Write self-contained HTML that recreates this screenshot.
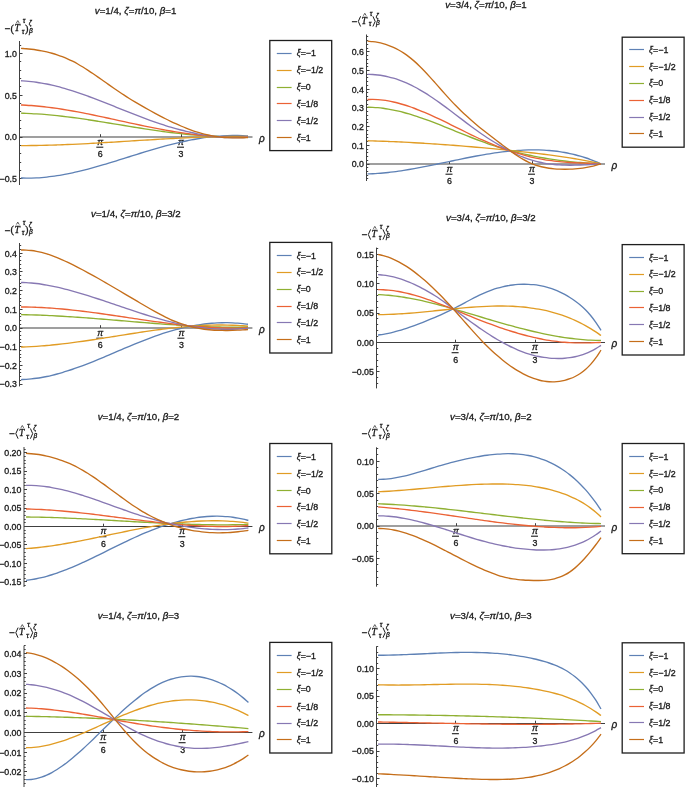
<!DOCTYPE html>
<html><head><meta charset="utf-8"><style>
html,body{margin:0;padding:0;background:#fff;width:685px;height:787px;overflow:hidden}
svg{display:block;font-family:"Liberation Sans", sans-serif;will-change:transform}
text{stroke:#1a1a1a;stroke-width:0.32px;paint-order:stroke}
</style></head><body>
<svg width="685" height="787" viewBox="0 0 685 787">
<rect width="685" height="787" fill="#fff"/>
<line x1="19.5" y1="41" x2="19.5" y2="185" stroke="#404040" stroke-width="1"/>
<path d="M19.5,178.5h3M19.5,170.5h1.7M19.5,162.5h1.7M19.5,153.5h1.7M19.5,145.5h1.7M19.5,137.5h3M19.5,128.5h1.7M19.5,120.5h1.7M19.5,111.5h1.7M19.5,103.5h1.7M19.5,95.5h3M19.5,86.5h1.7M19.5,78.5h1.7M19.5,70.5h1.7M19.5,61.5h1.7M19.5,53.5h3M19.5,45.5h1.7" stroke="#404040" stroke-width="1" fill="none"/>
<g font-size="8.8" text-anchor="end" fill="#1a1a1a"><text x="16.9" y="182.05">−0.5</text><text x="16.9" y="140.3">0.0</text><text x="16.9" y="98.55">0.5</text><text x="16.9" y="56.8">1.0</text></g>
<line x1="19.5" y1="137" x2="252.5" y2="137" stroke="#404040" stroke-width="1.2"/>
<path d="M100.5,137v-2.8M181.5,137v-2.8" stroke="#404040" stroke-width="1"/>
<text x="100.3" y="144.5" font-size="8.8" font-style="italic" text-anchor="middle" fill="#1a1a1a">π</text>
<line x1="96.3" y1="147.2" x2="103.3" y2="147.2" stroke="#1a1a1a" stroke-width="1.1"/>
<text x="100.3" y="157.2" font-size="8.8" text-anchor="middle" fill="#1a1a1a">6</text>
<text x="181" y="144.5" font-size="8.8" font-style="italic" text-anchor="middle" fill="#1a1a1a">π</text>
<line x1="177" y1="147.2" x2="184" y2="147.2" stroke="#1a1a1a" stroke-width="1.1"/>
<text x="181" y="157.2" font-size="8.8" text-anchor="middle" fill="#1a1a1a">3</text>
<text x="259" y="141.6" font-size="10" font-style="italic" fill="#1a1a1a">ρ</text>
<path d="M21,177.98C22.72,178.03 24.44,178.1 26.16,178.12C27.88,178.13 29.6,178.12 31.32,178.08C33.04,178.05 34.76,177.98 36.48,177.89C38.2,177.8 39.92,177.69 41.64,177.55C43.36,177.41 45.08,177.25 46.8,177.06C48.52,176.88 50.23,176.67 51.95,176.44C53.67,176.22 55.39,175.97 57.11,175.7C58.83,175.43 60.55,175.14 62.27,174.83C63.99,174.53 65.71,174.2 67.43,173.86C69.15,173.52 70.87,173.16 72.59,172.79C74.31,172.42 76.03,172.03 77.75,171.62C79.47,171.22 81.19,170.8 82.91,170.37C84.63,169.94 86.35,169.5 88.07,169.05C89.79,168.59 91.51,168.13 93.23,167.65C94.95,167.18 96.67,166.69 98.39,166.2C100.11,165.71 101.83,165.21 103.55,164.7C105.27,164.19 106.98,163.68 108.7,163.16C110.42,162.64 112.14,162.11 113.86,161.58C115.58,161.05 117.3,160.51 119.02,159.98C120.74,159.44 122.46,158.9 124.18,158.36C125.9,157.82 127.62,157.28 129.34,156.74C131.06,156.2 132.78,155.66 134.5,155.12C136.22,154.58 137.94,154.05 139.66,153.51C141.38,152.98 143.1,152.45 144.82,151.93C146.54,151.41 148.26,150.89 149.98,150.37C151.7,149.86 153.42,149.36 155.14,148.86C156.86,148.36 158.58,147.87 160.3,147.39C162.02,146.91 163.73,146.43 165.45,145.97C167.17,145.51 168.89,145.06 170.61,144.62C172.33,144.18 174.05,143.74 175.77,143.33C177.49,142.91 179.21,142.5 180.93,142.11C182.65,141.72 184.37,141.34 186.09,140.97C187.81,140.61 189.53,140.26 191.25,139.93C192.97,139.59 194.69,139.27 196.41,138.97C198.13,138.67 199.85,138.38 201.57,138.11C203.29,137.85 205.01,137.6 206.73,137.37C208.45,137.14 210.17,136.92 211.89,136.73C213.61,136.54 215.33,136.37 217.05,136.22C218.77,136.07 220.48,135.93 222.2,135.83C223.92,135.72 225.64,135.63 227.36,135.57C229.08,135.51 230.8,135.47 232.52,135.46C234.24,135.45 235.96,135.46 237.68,135.49C239.4,135.53 241.12,135.59 242.84,135.68C244.56,135.77 246.28,135.91 248,136.02" stroke="#5e81b5" stroke-width="1.35" fill="none" stroke-linejoin="round"/>
<path d="M21,145.58C22.72,145.58 24.44,145.58 26.16,145.57C27.88,145.56 29.6,145.55 31.32,145.53C33.04,145.51 34.76,145.49 36.48,145.46C38.2,145.43 39.92,145.4 41.64,145.37C43.36,145.33 45.08,145.29 46.8,145.24C48.52,145.2 50.23,145.15 51.95,145.1C53.67,145.05 55.39,144.99 57.11,144.93C58.83,144.87 60.55,144.81 62.27,144.75C63.99,144.68 65.71,144.61 67.43,144.54C69.15,144.47 70.87,144.39 72.59,144.31C74.31,144.24 76.03,144.16 77.75,144.07C79.47,143.99 81.19,143.91 82.91,143.82C84.63,143.73 86.35,143.64 88.07,143.55C89.79,143.46 91.51,143.36 93.23,143.27C94.95,143.17 96.67,143.08 98.39,142.98C100.11,142.88 101.83,142.78 103.55,142.68C105.27,142.58 106.98,142.47 108.7,142.37C110.42,142.27 112.14,142.16 113.86,142.06C115.58,141.95 117.3,141.84 119.02,141.74C120.74,141.63 122.46,141.52 124.18,141.42C125.9,141.31 127.62,141.2 129.34,141.09C131.06,140.98 132.78,140.88 134.5,140.77C136.22,140.66 137.94,140.55 139.66,140.45C141.38,140.34 143.1,140.23 144.82,140.12C146.54,140.02 148.26,139.91 149.98,139.81C151.7,139.7 153.42,139.6 155.14,139.5C156.86,139.39 158.58,139.29 160.3,139.19C162.02,139.09 163.73,138.99 165.45,138.9C167.17,138.8 168.89,138.7 170.61,138.61C172.33,138.52 174.05,138.43 175.77,138.34C177.49,138.25 179.21,138.16 180.93,138.07C182.65,137.99 184.37,137.91 186.09,137.83C187.81,137.75 189.53,137.67 191.25,137.59C192.97,137.52 194.69,137.45 196.41,137.38C198.13,137.31 199.85,137.24 201.57,137.18C203.29,137.12 205.01,137.06 206.73,137C208.45,136.95 210.17,136.9 211.89,136.85C213.61,136.8 215.33,136.76 217.05,136.72C218.77,136.68 220.48,136.64 222.2,136.61C223.92,136.58 225.64,136.55 227.36,136.52C229.08,136.5 230.8,136.48 232.52,136.47C234.24,136.45 235.96,136.45 237.68,136.44C239.4,136.44 241.12,136.44 242.84,136.44C244.56,136.45 246.28,136.47 248,136.48" stroke="#e19c24" stroke-width="1.35" fill="none" stroke-linejoin="round"/>
<path d="M21,113.2C22.72,113.25 24.44,113.28 26.16,113.34C27.88,113.4 29.6,113.48 31.32,113.56C33.04,113.64 34.76,113.74 36.48,113.85C38.2,113.96 39.92,114.08 41.64,114.2C43.36,114.33 45.08,114.47 46.8,114.62C48.52,114.77 50.23,114.93 51.95,115.1C53.67,115.27 55.39,115.44 57.11,115.63C58.83,115.81 60.55,116.01 62.27,116.21C63.99,116.41 65.71,116.62 67.43,116.83C69.15,117.05 70.87,117.27 72.59,117.5C74.31,117.73 76.03,117.96 77.75,118.2C79.47,118.44 81.19,118.69 82.91,118.94C84.63,119.19 86.35,119.45 88.07,119.71C89.79,119.97 91.51,120.23 93.23,120.5C94.95,120.77 96.67,121.04 98.39,121.31C100.11,121.58 101.83,121.86 103.55,122.14C105.27,122.42 106.98,122.7 108.7,122.98C110.42,123.26 112.14,123.54 113.86,123.83C115.58,124.11 117.3,124.39 119.02,124.68C120.74,124.96 122.46,125.24 124.18,125.53C125.9,125.81 127.62,126.09 129.34,126.37C131.06,126.65 132.78,126.93 134.5,127.21C136.22,127.48 137.94,127.76 139.66,128.03C141.38,128.3 143.1,128.57 144.82,128.84C146.54,129.1 148.26,129.36 149.98,129.62C151.7,129.88 153.42,130.13 155.14,130.38C156.86,130.63 158.58,130.87 160.3,131.11C162.02,131.34 163.73,131.58 165.45,131.8C167.17,132.03 168.89,132.25 170.61,132.47C172.33,132.68 174.05,132.89 175.77,133.1C177.49,133.3 179.21,133.49 180.93,133.68C182.65,133.87 184.37,134.06 186.09,134.23C187.81,134.41 189.53,134.58 191.25,134.74C192.97,134.9 194.69,135.05 196.41,135.2C198.13,135.34 199.85,135.48 201.57,135.61C203.29,135.74 205.01,135.86 206.73,135.97C208.45,136.08 210.17,136.19 211.89,136.28C213.61,136.37 215.33,136.46 217.05,136.53C218.77,136.61 220.48,136.67 222.2,136.73C223.92,136.79 225.64,136.83 227.36,136.87C229.08,136.9 230.8,136.93 232.52,136.94C234.24,136.96 235.96,136.96 237.68,136.95C239.4,136.95 241.12,136.93 242.84,136.9C244.56,136.87 246.28,136.81 248,136.77" stroke="#8fb032" stroke-width="1.35" fill="none" stroke-linejoin="round"/>
<path d="M21,104.96C22.72,105.04 24.44,105.11 26.16,105.21C27.88,105.3 29.6,105.41 31.32,105.54C33.04,105.67 34.76,105.81 36.48,105.96C38.2,106.12 39.92,106.29 41.64,106.47C43.36,106.65 45.08,106.85 46.8,107.06C48.52,107.27 50.23,107.49 51.95,107.72C53.67,107.95 55.39,108.19 57.11,108.44C58.83,108.7 60.55,108.96 62.27,109.23C63.99,109.51 65.71,109.79 67.43,110.08C69.15,110.37 70.87,110.67 72.59,110.98C74.31,111.28 76.03,111.6 77.75,111.92C79.47,112.24 81.19,112.57 82.91,112.91C84.63,113.24 86.35,113.59 88.07,113.93C89.79,114.28 91.51,114.63 93.23,114.99C94.95,115.34 96.67,115.7 98.39,116.07C100.11,116.43 101.83,116.8 103.55,117.17C105.27,117.54 106.98,117.91 108.7,118.28C110.42,118.66 112.14,119.03 113.86,119.41C115.58,119.79 117.3,120.17 119.02,120.54C120.74,120.92 122.46,121.3 124.18,121.67C125.9,122.05 127.62,122.43 129.34,122.8C131.06,123.17 132.78,123.54 134.5,123.91C136.22,124.28 137.94,124.65 139.66,125.01C141.38,125.37 143.1,125.73 144.82,126.09C146.54,126.44 148.26,126.79 149.98,127.14C151.7,127.48 153.42,127.82 155.14,128.16C156.86,128.49 158.58,128.82 160.3,129.14C162.02,129.46 163.73,129.78 165.45,130.08C167.17,130.39 168.89,130.69 170.61,130.99C172.33,131.28 174.05,131.56 175.77,131.84C177.49,132.12 179.21,132.38 180.93,132.64C182.65,132.9 184.37,133.15 186.09,133.39C187.81,133.64 189.53,133.87 191.25,134.09C192.97,134.31 194.69,134.52 196.41,134.72C198.13,134.92 199.85,135.11 201.57,135.29C203.29,135.47 205.01,135.64 206.73,135.79C208.45,135.95 210.17,136.09 211.89,136.22C213.61,136.36 215.33,136.48 217.05,136.58C218.77,136.69 220.48,136.78 222.2,136.86C223.92,136.94 225.64,137.01 227.36,137.06C229.08,137.11 230.8,137.15 232.52,137.17C234.24,137.19 235.96,137.2 237.68,137.19C239.4,137.19 241.12,137.16 242.84,137.13C244.56,137.09 246.28,137.02 248,136.96" stroke="#eb6235" stroke-width="1.35" fill="none" stroke-linejoin="round"/>
<path d="M21,80.77C22.72,80.87 24.44,80.93 26.16,81.06C27.88,81.19 29.6,81.36 31.32,81.55C33.04,81.74 34.76,81.96 36.48,82.21C38.2,82.46 39.92,82.74 41.64,83.04C43.36,83.34 45.08,83.67 46.8,84.03C48.52,84.38 50.23,84.76 51.95,85.16C53.67,85.55 55.39,85.98 57.11,86.42C58.83,86.86 60.55,87.33 62.27,87.81C63.99,88.29 65.71,88.8 67.43,89.31C69.15,89.83 70.87,90.37 72.59,90.92C74.31,91.47 76.03,92.04 77.75,92.62C79.47,93.2 81.19,93.8 82.91,94.4C84.63,95.01 86.35,95.63 88.07,96.25C89.79,96.88 91.51,97.52 93.23,98.17C94.95,98.82 96.67,99.47 98.39,100.13C100.11,100.8 101.83,101.47 103.55,102.14C105.27,102.81 106.98,103.49 108.7,104.17C110.42,104.86 112.14,105.54 113.86,106.23C115.58,106.92 117.3,107.6 119.02,108.29C120.74,108.98 122.46,109.67 124.18,110.35C125.9,111.04 127.62,111.72 129.34,112.4C131.06,113.08 132.78,113.76 134.5,114.43C136.22,115.1 137.94,115.76 139.66,116.42C141.38,117.07 143.1,117.72 144.82,118.36C146.54,119 148.26,119.64 149.98,120.26C151.7,120.88 153.42,121.49 155.14,122.09C156.86,122.68 158.58,123.27 160.3,123.84C162.02,124.41 163.73,124.97 165.45,125.52C167.17,126.06 168.89,126.6 170.61,127.11C172.33,127.63 174.05,128.13 175.77,128.62C177.49,129.1 179.21,129.57 180.93,130.02C182.65,130.48 184.37,130.91 186.09,131.33C187.81,131.75 189.53,132.15 191.25,132.53C192.97,132.92 194.69,133.28 196.41,133.62C198.13,133.97 199.85,134.29 201.57,134.6C203.29,134.9 205.01,135.19 206.73,135.45C208.45,135.71 210.17,135.95 211.89,136.17C213.61,136.39 215.33,136.58 217.05,136.76C218.77,136.93 220.48,137.08 222.2,137.21C223.92,137.33 225.64,137.43 227.36,137.51C229.08,137.58 230.8,137.64 232.52,137.66C234.24,137.68 235.96,137.68 237.68,137.66C239.4,137.63 241.12,137.57 242.84,137.49C244.56,137.41 246.28,137.27 248,137.16" stroke="#8778b3" stroke-width="1.35" fill="none" stroke-linejoin="round"/>
<path d="M21,48.41C22.72,48.53 24.44,48.62 26.16,48.76C27.88,48.91 29.6,49.08 31.32,49.28C33.04,49.48 34.76,49.7 36.48,49.96C38.2,50.23 39.92,50.51 41.64,50.84C43.36,51.17 45.08,51.53 46.8,51.93C48.52,52.34 50.23,52.77 51.95,53.25C53.67,53.74 55.39,54.26 57.11,54.82C58.83,55.39 60.55,56 62.27,56.66C63.99,57.32 65.71,58.03 67.43,58.79C69.15,59.55 70.87,60.36 72.59,61.22C74.31,62.09 76.03,63.01 77.75,63.98C79.47,64.94 81.19,65.97 82.91,67.03C84.63,68.09 86.35,69.2 88.07,70.32C89.79,71.45 91.51,72.61 93.23,73.79C94.95,74.96 96.67,76.16 98.39,77.36C100.11,78.56 101.83,79.78 103.55,80.99C105.27,82.19 106.98,83.41 108.7,84.61C110.42,85.81 112.14,87.01 113.86,88.2C115.58,89.39 117.3,90.57 119.02,91.73C120.74,92.89 122.46,94.03 124.18,95.15C125.9,96.27 127.62,97.37 129.34,98.45C131.06,99.53 132.78,100.58 134.5,101.62C136.22,102.66 137.94,103.68 139.66,104.68C141.38,105.69 143.1,106.67 144.82,107.65C146.54,108.62 148.26,109.58 149.98,110.53C151.7,111.48 153.42,112.42 155.14,113.35C156.86,114.27 158.58,115.19 160.3,116.09C162.02,116.99 163.73,117.88 165.45,118.74C167.17,119.61 168.89,120.46 170.61,121.29C172.33,122.12 174.05,122.93 175.77,123.72C177.49,124.5 179.21,125.27 180.93,126C182.65,126.74 184.37,127.45 186.09,128.13C187.81,128.82 189.53,129.47 191.25,130.09C192.97,130.71 194.69,131.3 196.41,131.86C198.13,132.41 199.85,132.94 201.57,133.42C203.29,133.9 205.01,134.35 206.73,134.76C208.45,135.16 210.17,135.53 211.89,135.85C213.61,136.17 215.33,136.45 217.05,136.69C218.77,136.93 220.48,137.12 222.2,137.28C223.92,137.44 225.64,137.56 227.36,137.65C229.08,137.75 230.8,137.8 232.52,137.83C234.24,137.87 235.96,137.87 237.68,137.85C239.4,137.83 241.12,137.78 242.84,137.73C244.56,137.67 246.28,137.57 248,137.49" stroke="#c56e1a" stroke-width="1.35" fill="none" stroke-linejoin="round"/>
<text x="135.6" y="14.1" font-size="9.7" text-anchor="middle" fill="#1a1a1a"><tspan font-style="italic">v</tspan>=1/4, <tspan font-style="italic">ζ</tspan>=<tspan font-style="italic">π</tspan>/10, <tspan font-style="italic">β</tspan>=1</text>
<g transform="translate(5,31.6)" fill="#1a1a1a"><text x="-0.2" y="0.5" font-size="9.8">−</text><text x="5.6" y="0" font-size="10.4" font-family='Liberation Serif', serif>(</text><text x="9.6" y="-0.4" font-size="9.6" font-style="italic" font-family='Liberation Serif', serif>T</text><polyline points="11.4,-8.6 12.8,-11.0 14.2,-8.6" fill="none" stroke="#1a1a1a" stroke-width="0.7"/><text x="17.7" y="-8.5" font-size="7.6" font-style="italic" font-family='Liberation Serif', serif>τ</text><text x="16.8" y="2.1" font-size="7.6" font-style="italic" font-family='Liberation Serif', serif>τ</text><text x="20.1" y="0" font-size="10.4" font-family='Liberation Serif', serif>)</text><text x="23.8" y="-6.4" font-size="6.6" font-style="italic">ζ</text><text x="24.0" y="1.0" font-size="6.6" font-style="italic">β</text></g>
<rect x="269.8" y="40.5" width="61.9" height="110.1" fill="#fff" stroke="#1e1e1e" stroke-width="1.3"/>
<line x1="276.8" y1="53.5" x2="291.6" y2="53.5" stroke="#5e81b5" stroke-width="1.2"/>
<text x="296.7" y="56.3" font-size="8.85" fill="#1a1a1a"><tspan font-style="italic">ξ</tspan>=−1</text>
<line x1="276.8" y1="70.5" x2="291.6" y2="70.5" stroke="#e19c24" stroke-width="1.2"/>
<text x="296.7" y="73.2" font-size="8.85" fill="#1a1a1a"><tspan font-style="italic">ξ</tspan>=−1/2</text>
<line x1="276.8" y1="87.5" x2="291.6" y2="87.5" stroke="#8fb032" stroke-width="1.2"/>
<text x="296.7" y="90.2" font-size="8.85" fill="#1a1a1a"><tspan font-style="italic">ξ</tspan>=0</text>
<line x1="276.8" y1="103.5" x2="291.6" y2="103.5" stroke="#eb6235" stroke-width="1.2"/>
<text x="296.7" y="106.8" font-size="8.85" fill="#1a1a1a"><tspan font-style="italic">ξ</tspan>=1/8</text>
<line x1="276.8" y1="120.5" x2="291.6" y2="120.5" stroke="#8778b3" stroke-width="1.2"/>
<text x="296.7" y="123.7" font-size="8.85" fill="#1a1a1a"><tspan font-style="italic">ξ</tspan>=1/2</text>
<line x1="276.8" y1="137.5" x2="291.6" y2="137.5" stroke="#c56e1a" stroke-width="1.2"/>
<text x="296.7" y="140.5" font-size="8.85" fill="#1a1a1a"><tspan font-style="italic">ξ</tspan>=1</text>
<line x1="366.5" y1="34.5" x2="366.5" y2="181" stroke="#404040" stroke-width="1"/>
<path d="M366.5,178.5h1.7M366.5,175.5h1.7M366.5,171.5h1.7M366.5,167.5h1.7M366.5,164.5h3M366.5,160.5h1.7M366.5,156.5h1.7M366.5,152.5h1.7M366.5,149.5h1.7M366.5,145.5h3M366.5,141.5h1.7M366.5,137.5h1.7M366.5,134.5h1.7M366.5,130.5h1.7M366.5,126.5h3M366.5,122.5h1.7M366.5,119.5h1.7M366.5,115.5h1.7M366.5,111.5h1.7M366.5,107.5h3M366.5,104.5h1.7M366.5,100.5h1.7M366.5,96.5h1.7M366.5,92.5h1.7M366.5,89.5h3M366.5,85.5h1.7M366.5,81.5h1.7M366.5,77.5h1.7M366.5,74.5h1.7M366.5,70.5h3M366.5,66.5h1.7M366.5,63.5h1.7M366.5,59.5h1.7M366.5,55.5h1.7M366.5,51.5h3M366.5,48.5h1.7M366.5,44.5h1.7M366.5,40.5h1.7M366.5,36.5h1.7" stroke="#404040" stroke-width="1" fill="none"/>
<g font-size="8.8" text-anchor="end" fill="#1a1a1a"><text x="363.9" y="167.3">0.0</text><text x="363.9" y="148.6">0.1</text><text x="363.9" y="129.9">0.2</text><text x="363.9" y="111.2">0.3</text><text x="363.9" y="92.5">0.4</text><text x="363.9" y="73.8">0.5</text><text x="363.9" y="55.1">0.6</text></g>
<line x1="366.5" y1="164" x2="605" y2="164" stroke="#404040" stroke-width="1.2"/>
<path d="M449.5,164v-2.8M532.5,164v-2.8" stroke="#404040" stroke-width="1"/>
<text x="449.5" y="171.5" font-size="8.8" font-style="italic" text-anchor="middle" fill="#1a1a1a">π</text>
<line x1="445.5" y1="174.2" x2="452.5" y2="174.2" stroke="#1a1a1a" stroke-width="1.1"/>
<text x="449.5" y="184.2" font-size="8.8" text-anchor="middle" fill="#1a1a1a">6</text>
<text x="532" y="171.5" font-size="8.8" font-style="italic" text-anchor="middle" fill="#1a1a1a">π</text>
<line x1="528" y1="174.2" x2="535" y2="174.2" stroke="#1a1a1a" stroke-width="1.1"/>
<text x="532" y="184.2" font-size="8.8" text-anchor="middle" fill="#1a1a1a">3</text>
<text x="611.5" y="168.6" font-size="10" font-style="italic" fill="#1a1a1a">ρ</text>
<path d="M367.5,173.93C369.23,173.86 370.96,173.81 372.69,173.72C374.42,173.64 376.15,173.53 377.88,173.41C379.61,173.28 381.34,173.14 383.07,172.98C384.8,172.82 386.53,172.65 388.26,172.46C389.99,172.26 391.71,172.06 393.44,171.84C395.17,171.62 396.9,171.38 398.63,171.13C400.36,170.89 402.09,170.63 403.82,170.36C405.55,170.09 407.28,169.8 409.01,169.51C410.74,169.22 412.47,168.91 414.2,168.6C415.93,168.29 417.66,167.97 419.39,167.65C421.12,167.32 422.85,166.98 424.58,166.64C426.31,166.3 428.04,165.96 429.77,165.61C431.5,165.26 433.23,164.9 434.96,164.54C436.69,164.18 438.41,163.82 440.14,163.46C441.87,163.09 443.6,162.73 445.33,162.36C447.06,162 448.79,161.63 450.52,161.26C452.25,160.9 453.98,160.53 455.71,160.17C457.44,159.81 459.17,159.44 460.9,159.09C462.63,158.73 464.36,158.38 466.09,158.03C467.82,157.68 469.55,157.33 471.28,157C473.01,156.66 474.74,156.33 476.47,156C478.2,155.68 479.93,155.36 481.66,155.05C483.39,154.75 485.11,154.45 486.84,154.16C488.57,153.87 490.3,153.59 492.03,153.33C493.76,153.06 495.49,152.8 497.22,152.56C498.95,152.32 500.68,152.09 502.41,151.87C504.14,151.66 505.87,151.46 507.6,151.27C509.33,151.09 511.06,150.92 512.79,150.77C514.52,150.61 516.25,150.48 517.98,150.36C519.71,150.24 521.44,150.14 523.17,150.06C524.9,149.98 526.63,149.92 528.36,149.88C530.09,149.84 531.81,149.82 533.54,149.82C535.27,149.83 537,149.85 538.73,149.9C540.46,149.95 542.19,150.02 543.92,150.11C545.65,150.21 547.38,150.33 549.11,150.47C550.84,150.62 552.57,150.79 554.3,150.99C556.03,151.19 557.76,151.41 559.49,151.67C561.22,151.92 562.95,152.2 564.68,152.51C566.41,152.83 568.14,153.17 569.87,153.54C571.6,153.91 573.33,154.31 575.06,154.75C576.79,155.18 578.51,155.65 580.24,156.15C581.97,156.65 583.7,157.19 585.43,157.76C587.16,158.32 588.89,158.93 590.62,159.57C592.35,160.21 594.08,160.88 595.81,161.59C597.54,162.31 599.27,163.09 601,163.84" stroke="#5e81b5" stroke-width="1.35" fill="none" stroke-linejoin="round"/>
<path d="M367.5,140.77C369.23,140.82 370.96,140.87 372.69,140.92C374.42,140.97 376.15,141.03 377.88,141.08C379.61,141.14 381.34,141.2 383.07,141.27C384.8,141.33 386.53,141.4 388.26,141.47C389.99,141.53 391.71,141.61 393.44,141.68C395.17,141.76 396.9,141.83 398.63,141.91C400.36,141.99 402.09,142.08 403.82,142.16C405.55,142.25 407.28,142.34 409.01,142.43C410.74,142.52 412.47,142.61 414.2,142.71C415.93,142.8 417.66,142.9 419.39,143C421.12,143.1 422.85,143.21 424.58,143.32C426.31,143.42 428.04,143.53 429.77,143.64C431.5,143.75 433.23,143.87 434.96,143.98C436.69,144.1 438.41,144.22 440.14,144.34C441.87,144.46 443.6,144.58 445.33,144.71C447.06,144.84 448.79,144.96 450.52,145.09C452.25,145.22 453.98,145.36 455.71,145.49C457.44,145.63 459.17,145.77 460.9,145.9C462.63,146.04 464.36,146.19 466.09,146.33C467.82,146.47 469.55,146.62 471.28,146.77C473.01,146.92 474.74,147.07 476.47,147.22C478.2,147.37 479.93,147.53 481.66,147.69C483.39,147.84 485.11,148 486.84,148.16C488.57,148.33 490.3,148.49 492.03,148.65C493.76,148.82 495.49,148.99 497.22,149.16C498.95,149.33 500.68,149.5 502.41,149.67C504.14,149.84 505.87,150.02 507.6,150.2C509.33,150.37 511.06,150.55 512.79,150.73C514.52,150.91 516.25,151.1 517.98,151.28C519.71,151.47 521.44,151.65 523.17,151.84C524.9,152.03 526.63,152.22 528.36,152.41C530.09,152.61 531.81,152.8 533.54,153C535.27,153.2 537,153.4 538.73,153.61C540.46,153.82 542.19,154.03 543.92,154.24C545.65,154.46 547.38,154.68 549.11,154.9C550.84,155.12 552.57,155.35 554.3,155.59C556.03,155.82 557.76,156.07 559.49,156.31C561.22,156.56 562.95,156.81 564.68,157.08C566.41,157.34 568.14,157.6 569.87,157.88C571.6,158.16 573.33,158.44 575.06,158.73C576.79,159.02 578.51,159.32 580.24,159.63C581.97,159.94 583.7,160.25 585.43,160.58C587.16,160.91 588.89,161.24 590.62,161.59C592.35,161.94 594.08,162.29 595.81,162.66C597.54,163.03 599.27,163.42 601,163.79" stroke="#e19c24" stroke-width="1.35" fill="none" stroke-linejoin="round"/>
<path d="M367.5,107.2C369.23,107.24 370.96,107.25 372.69,107.33C374.42,107.41 376.15,107.53 377.88,107.69C379.61,107.84 381.34,108.04 383.07,108.27C384.8,108.5 386.53,108.76 388.26,109.06C389.99,109.35 391.71,109.68 393.44,110.04C395.17,110.39 396.9,110.78 398.63,111.19C400.36,111.6 402.09,112.05 403.82,112.51C405.55,112.97 407.28,113.46 409.01,113.97C410.74,114.48 412.47,115.02 414.2,115.57C415.93,116.12 417.66,116.69 419.39,117.28C421.12,117.86 422.85,118.47 424.58,119.09C426.31,119.71 428.04,120.34 429.77,120.99C431.5,121.63 433.23,122.29 434.96,122.96C436.69,123.63 438.41,124.3 440.14,124.99C441.87,125.67 443.6,126.36 445.33,127.05C447.06,127.75 448.79,128.45 450.52,129.15C452.25,129.85 453.98,130.56 455.71,131.26C457.44,131.96 459.17,132.66 460.9,133.36C462.63,134.06 464.36,134.76 466.09,135.45C467.82,136.14 469.55,136.82 471.28,137.5C473.01,138.18 474.74,138.85 476.47,139.5C478.2,140.16 479.93,140.81 481.66,141.45C483.39,142.08 485.11,142.7 486.84,143.31C488.57,143.92 490.3,144.51 492.03,145.08C493.76,145.66 495.49,146.22 497.22,146.76C498.95,147.31 500.68,147.84 502.41,148.35C504.14,148.86 505.87,149.36 507.6,149.85C509.33,150.33 511.06,150.8 512.79,151.26C514.52,151.71 516.25,152.16 517.98,152.58C519.71,153.01 521.44,153.42 523.17,153.82C524.9,154.22 526.63,154.61 528.36,154.98C530.09,155.36 531.81,155.72 533.54,156.06C535.27,156.41 537,156.75 538.73,157.07C540.46,157.39 542.19,157.7 543.92,157.99C545.65,158.29 547.38,158.57 549.11,158.85C550.84,159.12 552.57,159.38 554.3,159.63C556.03,159.88 557.76,160.11 559.49,160.34C561.22,160.56 562.95,160.78 564.68,160.98C566.41,161.18 568.14,161.38 569.87,161.56C571.6,161.74 573.33,161.91 575.06,162.07C576.79,162.23 578.51,162.38 580.24,162.52C581.97,162.66 583.7,162.79 585.43,162.91C587.16,163.03 588.89,163.14 590.62,163.24C592.35,163.34 594.08,163.44 595.81,163.52C597.54,163.6 599.27,163.67 601,163.74" stroke="#8fb032" stroke-width="1.35" fill="none" stroke-linejoin="round"/>
<path d="M367.5,99.52C369.23,99.49 370.96,99.41 372.69,99.43C374.42,99.46 376.15,99.53 377.88,99.66C379.61,99.78 381.34,99.95 383.07,100.17C384.8,100.38 386.53,100.65 388.26,100.95C389.99,101.25 391.71,101.6 393.44,101.98C395.17,102.36 396.9,102.79 398.63,103.25C400.36,103.7 402.09,104.2 403.82,104.73C405.55,105.25 407.28,105.81 409.01,106.4C410.74,106.99 412.47,107.61 414.2,108.25C415.93,108.89 417.66,109.57 419.39,110.26C421.12,110.95 422.85,111.67 424.58,112.4C426.31,113.14 428.04,113.9 429.77,114.67C431.5,115.44 433.23,116.23 434.96,117.03C436.69,117.83 438.41,118.65 440.14,119.48C441.87,120.3 443.6,121.14 445.33,121.98C447.06,122.82 448.79,123.68 450.52,124.53C452.25,125.38 453.98,126.24 455.71,127.1C457.44,127.96 459.17,128.82 460.9,129.68C462.63,130.54 464.36,131.39 466.09,132.24C467.82,133.09 469.55,133.94 471.28,134.77C473.01,135.61 474.74,136.44 476.47,137.25C478.2,138.06 479.93,138.87 481.66,139.65C483.39,140.44 485.11,141.22 486.84,141.97C488.57,142.72 490.3,143.46 492.03,144.18C493.76,144.89 495.49,145.59 497.22,146.27C498.95,146.95 500.68,147.61 502.41,148.25C504.14,148.89 505.87,149.51 507.6,150.11C509.33,150.71 511.06,151.29 512.79,151.85C514.52,152.41 516.25,152.94 517.98,153.46C519.71,153.98 521.44,154.48 523.17,154.95C524.9,155.43 526.63,155.88 528.36,156.31C530.09,156.75 531.81,157.16 533.54,157.55C535.27,157.94 537,158.3 538.73,158.65C540.46,158.99 542.19,159.32 543.92,159.62C545.65,159.92 547.38,160.19 549.11,160.45C550.84,160.7 552.57,160.93 554.3,161.14C556.03,161.35 557.76,161.53 559.49,161.7C561.22,161.87 562.95,162.01 564.68,162.15C566.41,162.28 568.14,162.39 569.87,162.5C571.6,162.6 573.33,162.69 575.06,162.78C576.79,162.86 578.51,162.93 580.24,163C581.97,163.07 583.7,163.14 585.43,163.2C587.16,163.26 588.89,163.32 590.62,163.38C592.35,163.45 594.08,163.51 595.81,163.58C597.54,163.65 599.27,163.72 601,163.8" stroke="#eb6235" stroke-width="1.35" fill="none" stroke-linejoin="round"/>
<path d="M367.5,74.3C369.23,74.37 370.96,74.4 372.69,74.52C374.42,74.63 376.15,74.8 377.88,75C379.61,75.21 381.34,75.47 383.07,75.77C384.8,76.08 386.53,76.43 388.26,76.83C389.99,77.24 391.71,77.69 393.44,78.19C395.17,78.7 396.9,79.25 398.63,79.87C400.36,80.48 402.09,81.14 403.82,81.86C405.55,82.58 407.28,83.35 409.01,84.16C410.74,84.98 412.47,85.84 414.2,86.75C415.93,87.65 417.66,88.6 419.39,89.59C421.12,90.58 422.85,91.61 424.58,92.68C426.31,93.74 428.04,94.84 429.77,95.97C431.5,97.11 433.23,98.27 434.96,99.46C436.69,100.65 438.41,101.88 440.14,103.11C441.87,104.35 443.6,105.62 445.33,106.9C447.06,108.17 448.79,109.47 450.52,110.77C452.25,112.07 453.98,113.39 455.71,114.71C457.44,116.02 459.17,117.34 460.9,118.66C462.63,119.97 464.36,121.29 466.09,122.6C467.82,123.9 469.55,125.2 471.28,126.48C473.01,127.76 474.74,129.03 476.47,130.27C478.2,131.52 479.93,132.75 481.66,133.94C483.39,135.14 485.11,136.31 486.84,137.45C488.57,138.58 490.3,139.69 492.03,140.76C493.76,141.84 495.49,142.88 497.22,143.9C498.95,144.92 500.68,145.91 502.41,146.89C504.14,147.86 505.87,148.82 507.6,149.75C509.33,150.69 511.06,151.61 512.79,152.48C514.52,153.35 516.25,154.2 517.98,154.99C519.71,155.78 521.44,156.53 523.17,157.21C524.9,157.9 526.63,158.53 528.36,159.11C530.09,159.69 531.81,160.22 533.54,160.7C535.27,161.18 537,161.62 538.73,162.01C540.46,162.4 542.19,162.75 543.92,163.06C545.65,163.37 547.38,163.64 549.11,163.87C550.84,164.11 552.57,164.3 554.3,164.47C556.03,164.64 557.76,164.77 559.49,164.88C561.22,164.99 562.95,165.07 564.68,165.12C566.41,165.17 568.14,165.2 569.87,165.21C571.6,165.22 573.33,165.2 575.06,165.17C576.79,165.14 578.51,165.09 580.24,165.03C581.97,164.96 583.7,164.88 585.43,164.8C587.16,164.71 588.89,164.61 590.62,164.5C592.35,164.39 594.08,164.28 595.81,164.16C597.54,164.05 599.27,163.92 601,163.8" stroke="#8778b3" stroke-width="1.35" fill="none" stroke-linejoin="round"/>
<path d="M367.5,41.2C369.23,41.34 370.96,41.41 372.69,41.61C374.42,41.81 376.15,42.07 377.88,42.41C379.61,42.74 381.34,43.14 383.07,43.62C384.8,44.1 386.53,44.65 388.26,45.28C389.99,45.91 391.71,46.61 393.44,47.4C395.17,48.19 396.9,49.06 398.63,50.02C400.36,50.98 402.09,52.02 403.82,53.16C405.55,54.3 407.28,55.53 409.01,56.85C410.74,58.18 412.47,59.61 414.2,61.12C415.93,62.64 417.66,64.26 419.39,65.95C421.12,67.63 422.85,69.41 424.58,71.22C426.31,73.04 428.04,74.92 429.77,76.83C431.5,78.73 433.23,80.69 434.96,82.64C436.69,84.59 438.41,86.58 440.14,88.54C441.87,90.5 443.6,92.48 445.33,94.41C447.06,96.34 448.79,98.26 450.52,100.12C452.25,101.98 453.98,103.8 455.71,105.57C457.44,107.33 459.17,109.04 460.9,110.71C462.63,112.38 464.36,114 466.09,115.59C467.82,117.18 469.55,118.72 471.28,120.23C473.01,121.74 474.74,123.22 476.47,124.67C478.2,126.12 479.93,127.53 481.66,128.93C483.39,130.33 485.11,131.7 486.84,133.06C488.57,134.42 490.3,135.75 492.03,137.08C493.76,138.41 495.49,139.72 497.22,141.03C498.95,142.34 500.68,143.63 502.41,144.93C504.14,146.23 505.87,147.54 507.6,148.83C509.33,150.11 511.06,151.41 512.79,152.64C514.52,153.87 516.25,155.09 517.98,156.22C519.71,157.34 521.44,158.42 523.17,159.39C524.9,160.37 526.63,161.26 528.36,162.08C530.09,162.89 531.81,163.62 533.54,164.27C535.27,164.92 537,165.49 538.73,165.99C540.46,166.49 542.19,166.92 543.92,167.28C545.65,167.65 547.38,167.95 549.11,168.21C550.84,168.46 552.57,168.65 554.3,168.81C556.03,168.96 557.76,169.07 559.49,169.14C561.22,169.21 562.95,169.25 564.68,169.25C566.41,169.26 568.14,169.23 569.87,169.16C571.6,169.09 573.33,168.99 575.06,168.85C576.79,168.71 578.51,168.54 580.24,168.32C581.97,168.11 583.7,167.85 585.43,167.56C587.16,167.26 588.89,166.93 590.62,166.55C592.35,166.18 594.08,165.76 595.81,165.3C597.54,164.84 599.27,164.3 601,163.79" stroke="#c56e1a" stroke-width="1.35" fill="none" stroke-linejoin="round"/>
<text x="486" y="8" font-size="9.7" text-anchor="middle" fill="#1a1a1a"><tspan font-style="italic">v</tspan>=3/4, <tspan font-style="italic">ζ</tspan>=<tspan font-style="italic">π</tspan>/10, <tspan font-style="italic">β</tspan>=1</text>
<g transform="translate(352,24.3)" fill="#1a1a1a"><text x="-0.2" y="0.5" font-size="9.8">−</text><polyline points="8.6,-8.0 6.3,-2.9 8.6,2.2" fill="none" stroke="#1a1a1a" stroke-width="1"/><text x="9.6" y="-0.4" font-size="9.6" font-style="italic" font-family='Liberation Serif', serif>T</text><polyline points="11.4,-8.6 12.8,-11.0 14.2,-8.6" fill="none" stroke="#1a1a1a" stroke-width="0.7"/><text x="17.7" y="-8.5" font-size="7.6" font-style="italic" font-family='Liberation Serif', serif>τ</text><text x="16.8" y="2.1" font-size="7.6" font-style="italic" font-family='Liberation Serif', serif>τ</text><polyline points="20.9,-8.0 23.2,-2.9 20.9,2.2" fill="none" stroke="#1a1a1a" stroke-width="1"/><text x="23.8" y="-6.4" font-size="6.6" font-style="italic">ζ</text><text x="24.0" y="1.0" font-size="6.6" font-style="italic">β</text></g>
<rect x="622.2" y="37.2" width="61.9" height="110" fill="#fff" stroke="#1e1e1e" stroke-width="1.3"/>
<line x1="629.2" y1="49.5" x2="644" y2="49.5" stroke="#5e81b5" stroke-width="1.2"/>
<text x="649.1" y="52.6" font-size="8.85" fill="#1a1a1a"><tspan font-style="italic">ξ</tspan>=−1</text>
<line x1="629.2" y1="66.5" x2="644" y2="66.5" stroke="#e19c24" stroke-width="1.2"/>
<text x="649.1" y="69.8" font-size="8.85" fill="#1a1a1a"><tspan font-style="italic">ξ</tspan>=−1/2</text>
<line x1="629.2" y1="83.5" x2="644" y2="83.5" stroke="#8fb032" stroke-width="1.2"/>
<text x="649.1" y="86.4" font-size="8.85" fill="#1a1a1a"><tspan font-style="italic">ξ</tspan>=0</text>
<line x1="629.2" y1="100.5" x2="644" y2="100.5" stroke="#eb6235" stroke-width="1.2"/>
<text x="649.1" y="103.2" font-size="8.85" fill="#1a1a1a"><tspan font-style="italic">ξ</tspan>=1/8</text>
<line x1="629.2" y1="117.5" x2="644" y2="117.5" stroke="#8778b3" stroke-width="1.2"/>
<text x="649.1" y="120.2" font-size="8.85" fill="#1a1a1a"><tspan font-style="italic">ξ</tspan>=1/2</text>
<line x1="629.2" y1="133.5" x2="644" y2="133.5" stroke="#c56e1a" stroke-width="1.2"/>
<text x="649.1" y="137.1" font-size="8.85" fill="#1a1a1a"><tspan font-style="italic">ξ</tspan>=1</text>
<line x1="19.5" y1="243" x2="19.5" y2="386.4" stroke="#404040" stroke-width="1"/>
<path d="M19.5,384.5h3M19.5,380.5h1.7M19.5,376.5h1.7M19.5,372.5h1.7M19.5,369.5h1.7M19.5,365.5h3M19.5,361.5h1.7M19.5,357.5h1.7M19.5,354.5h1.7M19.5,350.5h1.7M19.5,346.5h3M19.5,342.5h1.7M19.5,339.5h1.7M19.5,335.5h1.7M19.5,331.5h1.7M19.5,328.5h3M19.5,324.5h1.7M19.5,320.5h1.7M19.5,316.5h1.7M19.5,313.5h1.7M19.5,309.5h3M19.5,305.5h1.7M19.5,301.5h1.7M19.5,298.5h1.7M19.5,294.5h1.7M19.5,290.5h3M19.5,286.5h1.7M19.5,283.5h1.7M19.5,279.5h1.7M19.5,275.5h1.7M19.5,271.5h3M19.5,268.5h1.7M19.5,264.5h1.7M19.5,260.5h1.7M19.5,256.5h1.7M19.5,253.5h3M19.5,249.5h1.7M19.5,245.5h1.7" stroke="#404040" stroke-width="1" fill="none"/>
<g font-size="8.8" text-anchor="end" fill="#1a1a1a"><text x="16.9" y="387.4">−0.3</text><text x="16.9" y="368.7">−0.2</text><text x="16.9" y="350">−0.1</text><text x="16.9" y="331.3">0.0</text><text x="16.9" y="312.6">0.1</text><text x="16.9" y="293.9">0.2</text><text x="16.9" y="275.2">0.3</text><text x="16.9" y="256.5">0.4</text></g>
<line x1="19.5" y1="328" x2="252.4" y2="328" stroke="#404040" stroke-width="1.2"/>
<path d="M100.5,328v-2.8M181.5,328v-2.8" stroke="#404040" stroke-width="1"/>
<text x="100.3" y="335.5" font-size="8.8" font-style="italic" text-anchor="middle" fill="#1a1a1a">π</text>
<line x1="96.3" y1="338.2" x2="103.3" y2="338.2" stroke="#1a1a1a" stroke-width="1.1"/>
<text x="100.3" y="348.2" font-size="8.8" text-anchor="middle" fill="#1a1a1a">6</text>
<text x="181.4" y="335.5" font-size="8.8" font-style="italic" text-anchor="middle" fill="#1a1a1a">π</text>
<line x1="177.4" y1="338.2" x2="184.4" y2="338.2" stroke="#1a1a1a" stroke-width="1.1"/>
<text x="181.4" y="348.2" font-size="8.8" text-anchor="middle" fill="#1a1a1a">3</text>
<text x="258.9" y="332.6" font-size="10" font-style="italic" fill="#1a1a1a">ρ</text>
<path d="M21,379.59C22.72,379.52 24.44,379.48 26.16,379.36C27.88,379.25 29.6,379.11 31.32,378.93C33.04,378.75 34.76,378.54 36.48,378.29C38.2,378.05 39.92,377.77 41.64,377.47C43.36,377.17 45.08,376.83 46.8,376.47C48.52,376.11 50.23,375.72 51.95,375.31C53.67,374.9 55.39,374.46 57.11,374C58.83,373.54 60.55,373.05 62.27,372.54C63.99,372.04 65.71,371.51 67.43,370.96C69.15,370.41 70.87,369.85 72.59,369.26C74.31,368.68 76.03,368.07 77.75,367.46C79.47,366.84 81.19,366.21 82.91,365.56C84.63,364.92 86.35,364.26 88.07,363.58C89.79,362.91 91.51,362.23 93.23,361.54C94.95,360.85 96.67,360.14 98.39,359.44C100.11,358.73 101.83,358.01 103.55,357.29C105.27,356.56 106.98,355.83 108.7,355.1C110.42,354.37 112.14,353.64 113.86,352.9C115.58,352.17 117.3,351.43 119.02,350.69C120.74,349.96 122.46,349.22 124.18,348.49C125.9,347.76 127.62,347.03 129.34,346.31C131.06,345.58 132.78,344.87 134.5,344.16C136.22,343.45 137.94,342.74 139.66,342.05C141.38,341.36 143.1,340.68 144.82,340.01C146.54,339.34 148.26,338.68 149.98,338.03C151.7,337.39 153.42,336.76 155.14,336.15C156.86,335.53 158.58,334.94 160.3,334.36C162.02,333.78 163.73,333.22 165.45,332.68C167.17,332.14 168.89,331.62 170.61,331.12C172.33,330.62 174.05,330.14 175.77,329.68C177.49,329.22 179.21,328.78 180.93,328.36C182.65,327.94 184.37,327.54 186.09,327.17C187.81,326.79 189.53,326.44 191.25,326.1C192.97,325.77 194.69,325.46 196.41,325.18C198.13,324.89 199.85,324.63 201.57,324.39C203.29,324.16 205.01,323.94 206.73,323.75C208.45,323.56 210.17,323.4 211.89,323.26C213.61,323.12 215.33,323 217.05,322.91C218.77,322.83 220.48,322.76 222.2,322.73C223.92,322.69 225.64,322.68 227.36,322.7C229.08,322.71 230.8,322.76 232.52,322.83C234.24,322.9 235.96,323 237.68,323.13C239.4,323.26 241.12,323.42 242.84,323.61C244.56,323.79 246.28,324.04 248,324.26" stroke="#5e81b5" stroke-width="1.35" fill="none" stroke-linejoin="round"/>
<path d="M21,347.02C22.72,346.96 24.44,346.92 26.16,346.85C27.88,346.78 29.6,346.7 31.32,346.61C33.04,346.52 34.76,346.42 36.48,346.31C38.2,346.2 39.92,346.07 41.64,345.94C43.36,345.81 45.08,345.67 46.8,345.51C48.52,345.36 50.23,345.2 51.95,345.03C53.67,344.87 55.39,344.69 57.11,344.5C58.83,344.32 60.55,344.13 62.27,343.93C63.99,343.73 65.71,343.52 67.43,343.31C69.15,343.09 70.87,342.87 72.59,342.65C74.31,342.42 76.03,342.19 77.75,341.95C79.47,341.72 81.19,341.48 82.91,341.23C84.63,340.99 86.35,340.73 88.07,340.48C89.79,340.23 91.51,339.97 93.23,339.71C94.95,339.45 96.67,339.18 98.39,338.92C100.11,338.65 101.83,338.38 103.55,338.11C105.27,337.84 106.98,337.57 108.7,337.3C110.42,337.03 112.14,336.75 113.86,336.48C115.58,336.21 117.3,335.93 119.02,335.66C120.74,335.38 122.46,335.11 124.18,334.84C125.9,334.56 127.62,334.29 129.34,334.02C131.06,333.75 132.78,333.48 134.5,333.22C136.22,332.95 137.94,332.69 139.66,332.42C141.38,332.16 143.1,331.91 144.82,331.65C146.54,331.4 148.26,331.15 149.98,330.9C151.7,330.66 153.42,330.41 155.14,330.18C156.86,329.94 158.58,329.71 160.3,329.48C162.02,329.26 163.73,329.04 165.45,328.82C167.17,328.61 168.89,328.4 170.61,328.2C172.33,328 174.05,327.81 175.77,327.62C177.49,327.44 179.21,327.26 180.93,327.09C182.65,326.92 184.37,326.76 186.09,326.61C187.81,326.46 189.53,326.31 191.25,326.18C192.97,326.05 194.69,325.92 196.41,325.81C198.13,325.7 199.85,325.6 201.57,325.51C203.29,325.41 205.01,325.33 206.73,325.27C208.45,325.2 210.17,325.14 211.89,325.1C213.61,325.05 215.33,325.02 217.05,325C218.77,324.98 220.48,324.98 222.2,324.99C223.92,325 225.64,325.02 227.36,325.05C229.08,325.09 230.8,325.14 232.52,325.21C234.24,325.28 235.96,325.36 237.68,325.45C239.4,325.55 241.12,325.66 242.84,325.79C244.56,325.92 246.28,326.09 248,326.23" stroke="#e19c24" stroke-width="1.35" fill="none" stroke-linejoin="round"/>
<path d="M21,314.61C22.72,314.64 24.44,314.67 26.16,314.71C27.88,314.75 29.6,314.8 31.32,314.85C33.04,314.9 34.76,314.95 36.48,315.01C38.2,315.07 39.92,315.14 41.64,315.21C43.36,315.28 45.08,315.35 46.8,315.43C48.52,315.51 50.23,315.6 51.95,315.68C53.67,315.77 55.39,315.86 57.11,315.96C58.83,316.05 60.55,316.15 62.27,316.26C63.99,316.36 65.71,316.46 67.43,316.57C69.15,316.68 70.87,316.8 72.59,316.91C74.31,317.03 76.03,317.14 77.75,317.26C79.47,317.39 81.19,317.51 82.91,317.63C84.63,317.76 86.35,317.89 88.07,318.02C89.79,318.15 91.51,318.28 93.23,318.41C94.95,318.55 96.67,318.68 98.39,318.82C100.11,318.96 101.83,319.09 103.55,319.23C105.27,319.37 106.98,319.51 108.7,319.65C110.42,319.8 112.14,319.94 113.86,320.08C115.58,320.22 117.3,320.37 119.02,320.51C120.74,320.65 122.46,320.8 124.18,320.94C125.9,321.08 127.62,321.23 129.34,321.37C131.06,321.51 132.78,321.66 134.5,321.8C136.22,321.94 137.94,322.08 139.66,322.22C141.38,322.37 143.1,322.51 144.82,322.64C146.54,322.78 148.26,322.92 149.98,323.06C151.7,323.19 153.42,323.33 155.14,323.46C156.86,323.59 158.58,323.72 160.3,323.85C162.02,323.98 163.73,324.11 165.45,324.23C167.17,324.36 168.89,324.48 170.61,324.6C172.33,324.72 174.05,324.84 175.77,324.95C177.49,325.06 179.21,325.17 180.93,325.28C182.65,325.39 184.37,325.49 186.09,325.6C187.81,325.7 189.53,325.79 191.25,325.89C192.97,325.98 194.69,326.07 196.41,326.16C198.13,326.24 199.85,326.32 201.57,326.4C203.29,326.48 205.01,326.55 206.73,326.62C208.45,326.69 210.17,326.75 211.89,326.81C213.61,326.87 215.33,326.92 217.05,326.97C218.77,327.02 220.48,327.06 222.2,327.1C223.92,327.14 225.64,327.17 227.36,327.19C229.08,327.22 230.8,327.24 232.52,327.25C234.24,327.27 235.96,327.28 237.68,327.28C239.4,327.28 241.12,327.27 242.84,327.26C244.56,327.25 246.28,327.23 248,327.21" stroke="#8fb032" stroke-width="1.35" fill="none" stroke-linejoin="round"/>
<path d="M21,307.01C22.72,307.02 24.44,307.01 26.16,307.04C27.88,307.06 29.6,307.09 31.32,307.13C33.04,307.18 34.76,307.24 36.48,307.3C38.2,307.37 39.92,307.45 41.64,307.53C43.36,307.62 45.08,307.72 46.8,307.83C48.52,307.93 50.23,308.05 51.95,308.17C53.67,308.3 55.39,308.44 57.11,308.58C58.83,308.72 60.55,308.87 62.27,309.03C63.99,309.19 65.71,309.36 67.43,309.53C69.15,309.7 70.87,309.88 72.59,310.07C74.31,310.26 76.03,310.45 77.75,310.65C79.47,310.85 81.19,311.06 82.91,311.27C84.63,311.48 86.35,311.7 88.07,311.92C89.79,312.14 91.51,312.36 93.23,312.59C94.95,312.82 96.67,313.06 98.39,313.29C100.11,313.53 101.83,313.77 103.55,314.01C105.27,314.26 106.98,314.5 108.7,314.75C110.42,315 112.14,315.25 113.86,315.5C115.58,315.75 117.3,316.01 119.02,316.26C120.74,316.52 122.46,316.77 124.18,317.03C125.9,317.29 127.62,317.54 129.34,317.8C131.06,318.06 132.78,318.31 134.5,318.57C136.22,318.82 137.94,319.08 139.66,319.33C141.38,319.59 143.1,319.84 144.82,320.09C146.54,320.34 148.26,320.59 149.98,320.83C151.7,321.08 153.42,321.32 155.14,321.56C156.86,321.8 158.58,322.03 160.3,322.27C162.02,322.5 163.73,322.73 165.45,322.95C167.17,323.17 168.89,323.39 170.61,323.61C172.33,323.82 174.05,324.03 175.77,324.24C177.49,324.44 179.21,324.64 180.93,324.83C182.65,325.02 184.37,325.21 186.09,325.39C187.81,325.56 189.53,325.74 191.25,325.9C192.97,326.06 194.69,326.22 196.41,326.37C198.13,326.52 199.85,326.66 201.57,326.79C203.29,326.92 205.01,327.05 206.73,327.16C208.45,327.27 210.17,327.38 211.89,327.47C213.61,327.57 215.33,327.65 217.05,327.73C218.77,327.8 220.48,327.86 222.2,327.92C223.92,327.97 225.64,328.01 227.36,328.04C229.08,328.07 230.8,328.09 232.52,328.09C234.24,328.1 235.96,328.09 237.68,328.07C239.4,328.05 241.12,328.02 242.84,327.97C244.56,327.93 246.28,327.85 248,327.79" stroke="#eb6235" stroke-width="1.35" fill="none" stroke-linejoin="round"/>
<path d="M21,282.49C22.72,282.55 24.44,282.57 26.16,282.66C27.88,282.74 29.6,282.86 31.32,283.01C33.04,283.15 34.76,283.33 36.48,283.53C38.2,283.74 39.92,283.97 41.64,284.22C43.36,284.48 45.08,284.76 46.8,285.06C48.52,285.36 50.23,285.69 51.95,286.04C53.67,286.38 55.39,286.75 57.11,287.14C58.83,287.52 60.55,287.93 62.27,288.35C63.99,288.77 65.71,289.21 67.43,289.67C69.15,290.12 70.87,290.59 72.59,291.07C74.31,291.55 76.03,292.04 77.75,292.55C79.47,293.05 81.19,293.56 82.91,294.09C84.63,294.61 86.35,295.14 88.07,295.68C89.79,296.22 91.51,296.77 93.23,297.32C94.95,297.88 96.67,298.44 98.39,299C100.11,299.57 101.83,300.14 103.55,300.71C105.27,301.29 106.98,301.86 108.7,302.44C110.42,303.02 112.14,303.61 113.86,304.19C115.58,304.77 117.3,305.36 119.02,305.94C120.74,306.52 122.46,307.11 124.18,307.69C125.9,308.27 127.62,308.85 129.34,309.43C131.06,310.01 132.78,310.58 134.5,311.15C136.22,311.72 137.94,312.29 139.66,312.84C141.38,313.4 143.1,313.96 144.82,314.5C146.54,315.04 148.26,315.58 149.98,316.11C151.7,316.64 153.42,317.16 155.14,317.67C156.86,318.18 158.58,318.67 160.3,319.16C162.02,319.64 163.73,320.12 165.45,320.58C167.17,321.04 168.89,321.48 170.61,321.92C172.33,322.35 174.05,322.76 175.77,323.16C177.49,323.56 179.21,323.94 180.93,324.3C182.65,324.67 184.37,325.01 186.09,325.34C187.81,325.67 189.53,325.97 191.25,326.26C192.97,326.55 194.69,326.82 196.41,327.07C198.13,327.32 199.85,327.55 201.57,327.76C203.29,327.97 205.01,328.16 206.73,328.33C208.45,328.5 210.17,328.64 211.89,328.77C213.61,328.9 215.33,329 217.05,329.09C218.77,329.17 220.48,329.24 222.2,329.28C223.92,329.32 225.64,329.34 227.36,329.33C229.08,329.33 230.8,329.3 232.52,329.25C234.24,329.2 235.96,329.13 237.68,329.04C239.4,328.94 241.12,328.82 242.84,328.68C244.56,328.54 246.28,328.35 248,328.18" stroke="#8778b3" stroke-width="1.35" fill="none" stroke-linejoin="round"/>
<path d="M21,250C22.72,250.01 24.44,249.96 26.16,250.05C27.88,250.13 29.6,250.29 31.32,250.5C33.04,250.71 34.76,250.99 36.48,251.32C38.2,251.64 39.92,252.03 41.64,252.47C43.36,252.91 45.08,253.4 46.8,253.93C48.52,254.46 50.23,255.04 51.95,255.66C53.67,256.28 55.39,256.94 57.11,257.63C58.83,258.32 60.55,259.06 62.27,259.81C63.99,260.57 65.71,261.36 67.43,262.17C69.15,262.99 70.87,263.83 72.59,264.68C74.31,265.54 76.03,266.41 77.75,267.3C79.47,268.19 81.19,269.09 82.91,270.01C84.63,270.92 86.35,271.85 88.07,272.79C89.79,273.72 91.51,274.67 93.23,275.63C94.95,276.59 96.67,277.55 98.39,278.53C100.11,279.5 101.83,280.49 103.55,281.47C105.27,282.46 106.98,283.46 108.7,284.46C110.42,285.46 112.14,286.46 113.86,287.47C115.58,288.48 117.3,289.5 119.02,290.51C120.74,291.53 122.46,292.55 124.18,293.56C125.9,294.58 127.62,295.6 129.34,296.62C131.06,297.64 132.78,298.66 134.5,299.68C136.22,300.7 137.94,301.71 139.66,302.73C141.38,303.74 143.1,304.75 144.82,305.76C146.54,306.76 148.26,307.76 149.98,308.75C151.7,309.73 153.42,310.71 155.14,311.67C156.86,312.62 158.58,313.56 160.3,314.47C162.02,315.37 163.73,316.26 165.45,317.1C167.17,317.95 168.89,318.77 170.61,319.54C172.33,320.31 174.05,321.04 175.77,321.73C177.49,322.42 179.21,323.06 180.93,323.66C182.65,324.26 184.37,324.81 186.09,325.32C187.81,325.84 189.53,326.3 191.25,326.73C192.97,327.15 194.69,327.53 196.41,327.88C198.13,328.22 199.85,328.52 201.57,328.78C203.29,329.05 205.01,329.28 206.73,329.47C208.45,329.67 210.17,329.83 211.89,329.97C213.61,330.1 215.33,330.2 217.05,330.28C218.77,330.36 220.48,330.41 222.2,330.44C223.92,330.47 225.64,330.47 227.36,330.46C229.08,330.45 230.8,330.42 232.52,330.37C234.24,330.32 235.96,330.26 237.68,330.18C239.4,330.11 241.12,330.02 242.84,329.92C244.56,329.82 246.28,329.71 248,329.61" stroke="#c56e1a" stroke-width="1.35" fill="none" stroke-linejoin="round"/>
<text x="135.9" y="216.8" font-size="9.7" text-anchor="middle" fill="#1a1a1a"><tspan font-style="italic">v</tspan>=1/4, <tspan font-style="italic">ζ</tspan>=<tspan font-style="italic">π</tspan>/10, <tspan font-style="italic">β</tspan>=3/2</text>
<g transform="translate(5,233.1)" fill="#1a1a1a"><text x="-0.2" y="0.5" font-size="9.8">−</text><text x="5.6" y="0" font-size="10.4" font-family='Liberation Serif', serif>(</text><text x="9.6" y="-0.4" font-size="9.6" font-style="italic" font-family='Liberation Serif', serif>T</text><polyline points="11.4,-8.6 12.8,-11.0 14.2,-8.6" fill="none" stroke="#1a1a1a" stroke-width="0.7"/><text x="17.7" y="-8.5" font-size="7.6" font-style="italic" font-family='Liberation Serif', serif>τ</text><text x="16.8" y="2.1" font-size="7.6" font-style="italic" font-family='Liberation Serif', serif>τ</text><text x="20.1" y="0" font-size="10.4" font-family='Liberation Serif', serif>)</text><text x="23.8" y="-6.4" font-size="6.6" font-style="italic">ζ</text><text x="24.0" y="1.0" font-size="6.6" font-style="italic">β</text></g>
<rect x="269.8" y="242.4" width="62" height="110.6" fill="#fff" stroke="#1e1e1e" stroke-width="1.3"/>
<line x1="276.8" y1="255.5" x2="291.6" y2="255.5" stroke="#5e81b5" stroke-width="1.2"/>
<text x="296.7" y="258.5" font-size="8.85" fill="#1a1a1a"><tspan font-style="italic">ξ</tspan>=−1</text>
<line x1="276.8" y1="272.5" x2="291.6" y2="272.5" stroke="#e19c24" stroke-width="1.2"/>
<text x="296.7" y="275.3" font-size="8.85" fill="#1a1a1a"><tspan font-style="italic">ξ</tspan>=−1/2</text>
<line x1="276.8" y1="289.5" x2="291.6" y2="289.5" stroke="#8fb032" stroke-width="1.2"/>
<text x="296.7" y="292.2" font-size="8.85" fill="#1a1a1a"><tspan font-style="italic">ξ</tspan>=0</text>
<line x1="276.8" y1="306.5" x2="291.6" y2="306.5" stroke="#eb6235" stroke-width="1.2"/>
<text x="296.7" y="309.2" font-size="8.85" fill="#1a1a1a"><tspan font-style="italic">ξ</tspan>=1/8</text>
<line x1="276.8" y1="322.5" x2="291.6" y2="322.5" stroke="#8778b3" stroke-width="1.2"/>
<text x="296.7" y="326" font-size="8.85" fill="#1a1a1a"><tspan font-style="italic">ξ</tspan>=1/2</text>
<line x1="276.8" y1="339.5" x2="291.6" y2="339.5" stroke="#c56e1a" stroke-width="1.2"/>
<text x="296.7" y="342.7" font-size="8.85" fill="#1a1a1a"><tspan font-style="italic">ξ</tspan>=1</text>
<line x1="376.5" y1="247.6" x2="376.5" y2="388.4" stroke="#404040" stroke-width="1"/>
<path d="M376.5,383.5h1.7M376.5,377.5h1.7M376.5,371.5h3M376.5,366.5h1.7M376.5,360.5h1.7M376.5,354.5h1.7M376.5,348.5h1.7M376.5,342.5h3M376.5,336.5h1.7M376.5,330.5h1.7M376.5,324.5h1.7M376.5,318.5h1.7M376.5,313.5h3M376.5,307.5h1.7M376.5,301.5h1.7M376.5,295.5h1.7M376.5,289.5h1.7M376.5,283.5h3M376.5,277.5h1.7M376.5,271.5h1.7M376.5,266.5h1.7M376.5,260.5h1.7M376.5,254.5h3M376.5,248.5h1.7" stroke="#404040" stroke-width="1" fill="none"/>
<g font-size="8.8" text-anchor="end" fill="#1a1a1a"><text x="373.9" y="375.2">−0.05</text><text x="373.9" y="345.8">0.00</text><text x="373.9" y="316.4">0.05</text><text x="373.9" y="287">0.10</text><text x="373.9" y="257.6">0.15</text></g>
<line x1="376.5" y1="342.5" x2="605" y2="342.5" stroke="#404040" stroke-width="1.2"/>
<path d="M455.5,342.5v-2.8M535.5,342.5v-2.8" stroke="#404040" stroke-width="1"/>
<text x="455.6" y="350" font-size="8.8" font-style="italic" text-anchor="middle" fill="#1a1a1a">π</text>
<line x1="451.6" y1="352.7" x2="458.6" y2="352.7" stroke="#1a1a1a" stroke-width="1.1"/>
<text x="455.6" y="362.7" font-size="8.8" text-anchor="middle" fill="#1a1a1a">6</text>
<text x="535" y="350" font-size="8.8" font-style="italic" text-anchor="middle" fill="#1a1a1a">π</text>
<line x1="531" y1="352.7" x2="538" y2="352.7" stroke="#1a1a1a" stroke-width="1.1"/>
<text x="535" y="362.7" font-size="8.8" text-anchor="middle" fill="#1a1a1a">3</text>
<text x="611.5" y="347.1" font-size="10" font-style="italic" fill="#1a1a1a">ρ</text>
<path d="M378,335.01C379.73,334.77 381.46,334.58 383.19,334.3C384.91,334.03 386.64,333.7 388.37,333.34C390.1,332.98 391.83,332.57 393.56,332.13C395.29,331.7 397.02,331.22 398.74,330.72C400.47,330.22 402.2,329.68 403.93,329.13C405.66,328.57 407.39,327.99 409.12,327.39C410.84,326.79 412.57,326.16 414.3,325.53C416.03,324.89 417.76,324.24 419.49,323.57C421.22,322.91 422.95,322.24 424.67,321.55C426.4,320.86 428.13,320.17 429.86,319.46C431.59,318.75 433.32,318.02 435.05,317.28C436.78,316.54 438.5,315.79 440.23,315.01C441.96,314.24 443.69,313.45 445.42,312.64C447.15,311.83 448.88,311 450.6,310.15C452.33,309.29 454.06,308.42 455.79,307.52C457.52,306.63 459.25,305.71 460.98,304.79C462.71,303.88 464.43,302.94 466.16,302.02C467.89,301.09 469.62,300.17 471.35,299.26C473.08,298.36 474.81,297.46 476.53,296.6C478.26,295.74 479.99,294.89 481.72,294.09C483.45,293.3 485.18,292.52 486.91,291.81C488.64,291.1 490.36,290.44 492.09,289.83C493.82,289.22 495.55,288.67 497.28,288.17C499.01,287.67 500.74,287.22 502.47,286.82C504.19,286.42 505.92,286.07 507.65,285.76C509.38,285.45 511.11,285.19 512.84,284.97C514.57,284.75 516.29,284.58 518.02,284.45C519.75,284.33 521.48,284.25 523.21,284.22C524.94,284.2 526.67,284.22 528.4,284.3C530.12,284.37 531.85,284.5 533.58,284.68C535.31,284.87 537.04,285.1 538.77,285.4C540.5,285.7 542.22,286.05 543.95,286.46C545.68,286.88 547.41,287.35 549.14,287.88C550.87,288.42 552.6,289.02 554.33,289.68C556.05,290.34 557.78,291.07 559.51,291.87C561.24,292.66 562.97,293.52 564.7,294.46C566.43,295.39 568.16,296.39 569.88,297.46C571.61,298.54 573.34,299.68 575.07,300.93C576.8,302.18 578.53,303.51 580.26,304.99C581.98,306.46 583.71,308.04 585.44,309.79C587.17,311.55 588.9,313.43 590.63,315.51C592.36,317.6 594.09,319.84 595.81,322.31C597.54,324.78 599.27,327.66 601,330.34" stroke="#5e81b5" stroke-width="1.35" fill="none" stroke-linejoin="round"/>
<path d="M378,314.6C379.73,314.59 381.46,314.58 383.19,314.55C384.91,314.52 386.64,314.48 388.37,314.42C390.1,314.37 391.83,314.3 393.56,314.22C395.29,314.14 397.02,314.05 398.74,313.95C400.47,313.85 402.2,313.73 403.93,313.62C405.66,313.5 407.39,313.37 409.12,313.23C410.84,313.1 412.57,312.95 414.3,312.8C416.03,312.65 417.76,312.5 419.49,312.34C421.22,312.17 422.95,312.01 424.67,311.84C426.4,311.67 428.13,311.5 429.86,311.32C431.59,311.14 433.32,310.97 435.05,310.79C436.78,310.61 438.5,310.43 440.23,310.25C441.96,310.07 443.69,309.89 445.42,309.71C447.15,309.53 448.88,309.35 450.6,309.17C452.33,309 454.06,308.83 455.79,308.66C457.52,308.49 459.25,308.32 460.98,308.16C462.71,308 464.43,307.85 466.16,307.7C467.89,307.55 469.62,307.41 471.35,307.27C473.08,307.14 474.81,307.01 476.53,306.9C478.26,306.78 479.99,306.67 481.72,306.57C483.45,306.47 485.18,306.38 486.91,306.31C488.64,306.23 490.36,306.17 492.09,306.12C493.82,306.07 495.55,306.04 497.28,306.02C499.01,305.99 500.74,305.99 502.47,306C504.19,306.01 505.92,306.04 507.65,306.08C509.38,306.13 511.11,306.19 512.84,306.28C514.57,306.36 516.29,306.46 518.02,306.58C519.75,306.71 521.48,306.85 523.21,307.02C524.94,307.19 526.67,307.38 528.4,307.59C530.12,307.81 531.85,308.04 533.58,308.31C535.31,308.57 537.04,308.86 538.77,309.18C540.5,309.49 542.22,309.83 543.95,310.21C545.68,310.58 547.41,310.98 549.14,311.41C550.87,311.84 552.6,312.3 554.33,312.79C556.05,313.28 557.78,313.8 559.51,314.36C561.24,314.92 562.97,315.51 564.7,316.13C566.43,316.76 568.16,317.42 569.88,318.12C571.61,318.82 573.34,319.55 575.07,320.33C576.8,321.12 578.53,321.94 580.26,322.8C581.98,323.67 583.71,324.58 585.44,325.54C587.17,326.5 588.9,327.51 590.63,328.57C592.36,329.63 594.09,330.73 595.81,331.9C597.54,333.06 599.27,334.33 601,335.55" stroke="#e19c24" stroke-width="1.35" fill="none" stroke-linejoin="round"/>
<path d="M378,294.58C379.73,294.67 381.46,294.74 383.19,294.86C384.91,294.98 386.64,295.12 388.37,295.28C390.1,295.44 391.83,295.63 393.56,295.83C395.29,296.03 397.02,296.26 398.74,296.5C400.47,296.74 402.2,297 403.93,297.28C405.66,297.55 407.39,297.85 409.12,298.16C410.84,298.47 412.57,298.8 414.3,299.14C416.03,299.49 417.76,299.84 419.49,300.21C421.22,300.58 422.95,300.97 424.67,301.37C426.4,301.76 428.13,302.17 429.86,302.59C431.59,303.01 433.32,303.45 435.05,303.89C436.78,304.33 438.5,304.78 440.23,305.24C441.96,305.7 443.69,306.17 445.42,306.64C447.15,307.11 448.88,307.6 450.6,308.09C452.33,308.57 454.06,309.07 455.79,309.57C457.52,310.06 459.25,310.57 460.98,311.08C462.71,311.58 464.43,312.09 466.16,312.6C467.89,313.12 469.62,313.63 471.35,314.15C473.08,314.66 474.81,315.18 476.53,315.69C478.26,316.21 479.99,316.73 481.72,317.24C483.45,317.76 485.18,318.27 486.91,318.78C488.64,319.29 490.36,319.81 492.09,320.31C493.82,320.82 495.55,321.33 497.28,321.83C499.01,322.33 500.74,322.83 502.47,323.32C504.19,323.81 505.92,324.3 507.65,324.79C509.38,325.27 511.11,325.75 512.84,326.22C514.57,326.69 516.29,327.16 518.02,327.62C519.75,328.07 521.48,328.53 523.21,328.97C524.94,329.41 526.67,329.85 528.4,330.27C530.12,330.7 531.85,331.11 533.58,331.52C535.31,331.93 537.04,332.33 538.77,332.71C540.5,333.1 542.22,333.47 543.95,333.84C545.68,334.2 547.41,334.55 549.14,334.89C550.87,335.23 552.6,335.56 554.33,335.87C556.05,336.18 557.78,336.48 559.51,336.77C561.24,337.05 562.97,337.32 564.7,337.58C566.43,337.83 568.16,338.07 569.88,338.29C571.61,338.52 573.34,338.73 575.07,338.92C576.8,339.11 578.53,339.28 580.26,339.43C581.98,339.59 583.71,339.73 585.44,339.84C587.17,339.96 588.9,340.06 590.63,340.14C592.36,340.22 594.09,340.28 595.81,340.32C597.54,340.35 599.27,340.35 601,340.37" stroke="#8fb032" stroke-width="1.35" fill="none" stroke-linejoin="round"/>
<path d="M378,289.61C379.73,289.65 381.46,289.64 383.19,289.72C384.91,289.8 386.64,289.93 388.37,290.09C390.1,290.25 391.83,290.46 393.56,290.7C395.29,290.94 397.02,291.22 398.74,291.53C400.47,291.84 402.2,292.19 403.93,292.56C405.66,292.94 407.39,293.35 409.12,293.78C410.84,294.22 412.57,294.68 414.3,295.17C416.03,295.66 417.76,296.18 419.49,296.72C421.22,297.25 422.95,297.82 424.67,298.39C426.4,298.97 428.13,299.57 429.86,300.19C431.59,300.81 433.32,301.44 435.05,302.09C436.78,302.73 438.5,303.39 440.23,304.07C441.96,304.74 443.69,305.42 445.42,306.11C447.15,306.8 448.88,307.5 450.6,308.2C452.33,308.9 454.06,309.62 455.79,310.33C457.52,311.04 459.25,311.75 460.98,312.46C462.71,313.17 464.43,313.89 466.16,314.59C467.89,315.3 469.62,316.01 471.35,316.71C473.08,317.4 474.81,318.1 476.53,318.78C478.26,319.47 479.99,320.14 481.72,320.81C483.45,321.48 485.18,322.15 486.91,322.8C488.64,323.45 490.36,324.09 492.09,324.73C493.82,325.36 495.55,325.98 497.28,326.59C499.01,327.21 500.74,327.81 502.47,328.39C504.19,328.98 505.92,329.56 507.65,330.12C509.38,330.68 511.11,331.23 512.84,331.76C514.57,332.29 516.29,332.81 518.02,333.31C519.75,333.81 521.48,334.3 523.21,334.77C524.94,335.24 526.67,335.7 528.4,336.13C530.12,336.57 531.85,336.98 533.58,337.38C535.31,337.78 537.04,338.16 538.77,338.52C540.5,338.88 542.22,339.22 543.95,339.54C545.68,339.85 547.41,340.15 549.14,340.42C550.87,340.7 552.6,340.95 554.33,341.18C556.05,341.41 557.78,341.62 559.51,341.8C561.24,341.98 562.97,342.13 564.7,342.27C566.43,342.4 568.16,342.51 569.88,342.6C571.61,342.7 573.34,342.76 575.07,342.81C576.8,342.86 578.53,342.89 580.26,342.91C581.98,342.92 583.71,342.92 585.44,342.9C587.17,342.88 588.9,342.84 590.63,342.8C592.36,342.75 594.09,342.68 595.81,342.61C597.54,342.54 599.27,342.44 601,342.36" stroke="#eb6235" stroke-width="1.35" fill="none" stroke-linejoin="round"/>
<path d="M378,274.61C379.73,274.76 381.46,274.86 383.19,275.06C384.91,275.27 386.64,275.53 388.37,275.84C390.1,276.15 391.83,276.52 393.56,276.94C395.29,277.36 397.02,277.83 398.74,278.35C400.47,278.86 402.2,279.43 403.93,280.05C405.66,280.66 407.39,281.33 409.12,282.03C410.84,282.74 412.57,283.49 414.3,284.29C416.03,285.08 417.76,285.92 419.49,286.8C421.22,287.69 422.95,288.61 424.67,289.57C426.4,290.53 428.13,291.53 429.86,292.57C431.59,293.61 433.32,294.69 435.05,295.8C436.78,296.91 438.5,298.06 440.23,299.24C441.96,300.42 443.69,301.63 445.42,302.87C447.15,304.1 448.88,305.37 450.6,306.65C452.33,307.92 454.06,309.22 455.79,310.52C457.52,311.82 459.25,313.14 460.98,314.44C462.71,315.74 464.43,317.05 466.16,318.34C467.89,319.64 469.62,320.92 471.35,322.19C473.08,323.45 474.81,324.7 476.53,325.92C478.26,327.15 479.99,328.36 481.72,329.54C483.45,330.72 485.18,331.88 486.91,333.02C488.64,334.15 490.36,335.26 492.09,336.34C493.82,337.41 495.55,338.47 497.28,339.48C499.01,340.5 500.74,341.49 502.47,342.44C504.19,343.39 505.92,344.32 507.65,345.2C509.38,346.08 511.11,346.93 512.84,347.73C514.57,348.53 516.29,349.3 518.02,350.03C519.75,350.75 521.48,351.43 523.21,352.07C524.94,352.7 526.67,353.29 528.4,353.84C530.12,354.38 531.85,354.87 533.58,355.32C535.31,355.77 537.04,356.17 538.77,356.52C540.5,356.87 542.22,357.17 543.95,357.43C545.68,357.68 547.41,357.89 549.14,358.05C550.87,358.22 552.6,358.33 554.33,358.4C556.05,358.47 557.78,358.5 559.51,358.47C561.24,358.45 562.97,358.38 564.7,358.25C566.43,358.12 568.16,357.94 569.88,357.69C571.61,357.44 573.34,357.14 575.07,356.76C576.8,356.38 578.53,355.94 580.26,355.42C581.98,354.91 583.71,354.32 585.44,353.65C587.17,352.98 588.9,352.23 590.63,351.4C592.36,350.56 594.09,349.64 595.81,348.63C597.54,347.62 599.27,346.42 601,345.32" stroke="#8778b3" stroke-width="1.35" fill="none" stroke-linejoin="round"/>
<path d="M378,254.39C379.73,254.77 381.46,255.07 383.19,255.54C384.91,256 386.64,256.55 388.37,257.18C390.1,257.8 391.83,258.51 393.56,259.28C395.29,260.06 397.02,260.91 398.74,261.83C400.47,262.75 402.2,263.74 403.93,264.8C405.66,265.85 407.39,266.97 409.12,268.15C410.84,269.33 412.57,270.58 414.3,271.87C416.03,273.17 417.76,274.53 419.49,275.93C421.22,277.34 422.95,278.8 424.67,280.31C426.4,281.82 428.13,283.38 429.86,284.98C431.59,286.58 433.32,288.23 435.05,289.91C436.78,291.6 438.5,293.33 440.23,295.09C441.96,296.85 443.69,298.65 445.42,300.47C447.15,302.3 448.88,304.16 450.6,306.05C452.33,307.94 454.06,309.86 455.79,311.79C457.52,313.72 459.25,315.69 460.98,317.65C462.71,319.61 464.43,321.59 466.16,323.55C467.89,325.51 469.62,327.48 471.35,329.41C473.08,331.34 474.81,333.27 476.53,335.15C478.26,337.03 479.99,338.89 481.72,340.69C483.45,342.49 485.18,344.25 486.91,345.96C488.64,347.66 490.36,349.32 492.09,350.92C493.82,352.53 495.55,354.08 497.28,355.58C499.01,357.08 500.74,358.53 502.47,359.92C504.19,361.32 505.92,362.66 507.65,363.94C509.38,365.22 511.11,366.45 512.84,367.61C514.57,368.78 516.29,369.88 518.02,370.92C519.75,371.95 521.48,372.93 523.21,373.83C524.94,374.73 526.67,375.56 528.4,376.32C530.12,377.08 531.85,377.77 533.58,378.38C535.31,379 537.04,379.53 538.77,379.99C540.5,380.44 542.22,380.82 543.95,381.11C545.68,381.4 547.41,381.61 549.14,381.73C550.87,381.85 552.6,381.89 554.33,381.83C556.05,381.77 557.78,381.62 559.51,381.38C561.24,381.13 562.97,380.79 564.7,380.36C566.43,379.92 568.16,379.39 569.88,378.74C571.61,378.1 573.34,377.38 575.07,376.5C576.8,375.62 578.53,374.64 580.26,373.47C581.98,372.3 583.71,371 585.44,369.48C587.17,367.96 588.9,366.28 590.63,364.36C592.36,362.44 594.09,360.32 595.81,357.94C597.54,355.55 599.27,352.67 601,350.04" stroke="#c56e1a" stroke-width="1.35" fill="none" stroke-linejoin="round"/>
<text x="490.9" y="221.1" font-size="9.7" text-anchor="middle" fill="#1a1a1a"><tspan font-style="italic">v</tspan>=3/4, <tspan font-style="italic">ζ</tspan>=<tspan font-style="italic">π</tspan>/10, <tspan font-style="italic">β</tspan>=3/2</text>
<g transform="translate(362,237.4)" fill="#1a1a1a"><text x="-0.2" y="0.5" font-size="9.8">−</text><polyline points="8.6,-8.0 6.3,-2.9 8.6,2.2" fill="none" stroke="#1a1a1a" stroke-width="1"/><text x="9.6" y="-0.4" font-size="9.6" font-style="italic" font-family='Liberation Serif', serif>T</text><polyline points="11.4,-8.6 12.8,-11.0 14.2,-8.6" fill="none" stroke="#1a1a1a" stroke-width="0.7"/><text x="17.7" y="-8.5" font-size="7.6" font-style="italic" font-family='Liberation Serif', serif>τ</text><text x="16.8" y="2.1" font-size="7.6" font-style="italic" font-family='Liberation Serif', serif>τ</text><polyline points="20.9,-8.0 23.2,-2.9 20.9,2.2" fill="none" stroke="#1a1a1a" stroke-width="1"/><text x="23.8" y="-6.4" font-size="6.6" font-style="italic">ζ</text><text x="24.0" y="1.0" font-size="6.6" font-style="italic">β</text></g>
<rect x="622.2" y="244.6" width="61.9" height="110.4" fill="#fff" stroke="#1e1e1e" stroke-width="1.3"/>
<line x1="629.2" y1="257.5" x2="644" y2="257.5" stroke="#5e81b5" stroke-width="1.2"/>
<text x="649.1" y="260.8" font-size="8.85" fill="#1a1a1a"><tspan font-style="italic">ξ</tspan>=−1</text>
<line x1="629.2" y1="274.5" x2="644" y2="274.5" stroke="#e19c24" stroke-width="1.2"/>
<text x="649.1" y="277.3" font-size="8.85" fill="#1a1a1a"><tspan font-style="italic">ξ</tspan>=−1/2</text>
<line x1="629.2" y1="291.5" x2="644" y2="291.5" stroke="#8fb032" stroke-width="1.2"/>
<text x="649.1" y="294.2" font-size="8.85" fill="#1a1a1a"><tspan font-style="italic">ξ</tspan>=0</text>
<line x1="629.2" y1="307.5" x2="644" y2="307.5" stroke="#eb6235" stroke-width="1.2"/>
<text x="649.1" y="310.9" font-size="8.85" fill="#1a1a1a"><tspan font-style="italic">ξ</tspan>=1/8</text>
<line x1="629.2" y1="324.5" x2="644" y2="324.5" stroke="#8778b3" stroke-width="1.2"/>
<text x="649.1" y="328" font-size="8.85" fill="#1a1a1a"><tspan font-style="italic">ξ</tspan>=1/2</text>
<line x1="629.2" y1="341.5" x2="644" y2="341.5" stroke="#c56e1a" stroke-width="1.2"/>
<text x="649.1" y="344.9" font-size="8.85" fill="#1a1a1a"><tspan font-style="italic">ξ</tspan>=1</text>
<line x1="24" y1="447" x2="24" y2="587" stroke="#404040" stroke-width="1"/>
<path d="M24,585.5h1.7M24,581.5h3M24,578.5h1.7M24,574.5h1.7M24,570.5h1.7M24,567.5h1.7M24,563.5h3M24,559.5h1.7M24,556.5h1.7M24,552.5h1.7M24,548.5h1.7M24,544.5h3M24,541.5h1.7M24,537.5h1.7M24,533.5h1.7M24,530.5h1.7M24,526.5h3M24,522.5h1.7M24,519.5h1.7M24,515.5h1.7M24,511.5h1.7M24,508.5h3M24,504.5h1.7M24,500.5h1.7M24,496.5h1.7M24,493.5h1.7M24,489.5h3M24,485.5h1.7M24,482.5h1.7M24,478.5h1.7M24,474.5h1.7M24,471.5h3M24,467.5h1.7M24,463.5h1.7M24,460.5h1.7M24,456.5h1.7M24,452.5h3M24,449.5h1.7" stroke="#404040" stroke-width="1" fill="none"/>
<g font-size="8.8" text-anchor="end" fill="#1a1a1a"><text x="21.4" y="585.15">−0.15</text><text x="21.4" y="566.7">−0.10</text><text x="21.4" y="548.25">−0.05</text><text x="21.4" y="529.8">0.00</text><text x="21.4" y="511.35">0.05</text><text x="21.4" y="492.9">0.10</text><text x="21.4" y="474.45">0.15</text><text x="21.4" y="456">0.20</text></g>
<line x1="24" y1="526.5" x2="252.4" y2="526.5" stroke="#404040" stroke-width="1.2"/>
<path d="M103.5,526.5v-2.8M182.5,526.5v-2.8" stroke="#404040" stroke-width="1"/>
<text x="103.4" y="534" font-size="8.8" font-style="italic" text-anchor="middle" fill="#1a1a1a">π</text>
<line x1="99.4" y1="536.7" x2="106.4" y2="536.7" stroke="#1a1a1a" stroke-width="1.1"/>
<text x="103.4" y="546.7" font-size="8.8" text-anchor="middle" fill="#1a1a1a">6</text>
<text x="182.3" y="534" font-size="8.8" font-style="italic" text-anchor="middle" fill="#1a1a1a">π</text>
<line x1="178.3" y1="536.7" x2="185.3" y2="536.7" stroke="#1a1a1a" stroke-width="1.1"/>
<text x="182.3" y="546.7" font-size="8.8" text-anchor="middle" fill="#1a1a1a">3</text>
<text x="258.9" y="531.1" font-size="10" font-style="italic" fill="#1a1a1a">ρ</text>
<path d="M26,580.35C27.72,580.13 29.45,579.94 31.17,579.68C32.9,579.41 34.62,579.11 36.34,578.76C38.07,578.42 39.79,578.04 41.52,577.63C43.24,577.22 44.96,576.77 46.69,576.29C48.41,575.81 50.14,575.3 51.86,574.76C53.58,574.22 55.31,573.65 57.03,573.05C58.76,572.46 60.48,571.83 62.2,571.19C63.93,570.55 65.65,569.87 67.38,569.19C69.1,568.5 70.82,567.78 72.55,567.06C74.27,566.33 76,565.58 77.72,564.82C79.44,564.05 81.17,563.27 82.89,562.48C84.62,561.69 86.34,560.88 88.07,560.07C89.79,559.26 91.51,558.43 93.24,557.6C94.96,556.77 96.69,555.92 98.41,555.08C100.13,554.23 101.86,553.38 103.58,552.53C105.31,551.68 107.03,550.82 108.75,549.97C110.48,549.11 112.2,548.26 113.93,547.41C115.65,546.55 117.37,545.7 119.1,544.86C120.82,544.02 122.55,543.18 124.27,542.35C125.99,541.53 127.72,540.7 129.44,539.89C131.17,539.09 132.89,538.29 134.61,537.5C136.34,536.72 138.06,535.95 139.79,535.19C141.51,534.44 143.23,533.7 144.96,532.97C146.68,532.25 148.41,531.54 150.13,530.86C151.85,530.17 153.58,529.5 155.3,528.85C157.03,528.2 158.75,527.57 160.47,526.96C162.2,526.35 163.92,525.76 165.65,525.2C167.37,524.63 169.09,524.09 170.82,523.56C172.54,523.04 174.27,522.55 175.99,522.07C177.71,521.6 179.44,521.15 181.16,520.73C182.89,520.31 184.61,519.92 186.33,519.55C188.06,519.18 189.78,518.84 191.51,518.53C193.23,518.22 194.96,517.93 196.68,517.68C198.4,517.43 200.13,517.21 201.85,517.01C203.58,516.82 205.3,516.66 207.02,516.54C208.75,516.41 210.47,516.32 212.2,516.26C213.92,516.2 215.64,516.17 217.37,516.18C219.09,516.19 220.82,516.23 222.54,516.32C224.26,516.4 225.99,516.51 227.71,516.67C229.44,516.83 231.16,517.02 232.88,517.26C234.61,517.49 236.33,517.76 238.06,518.08C239.78,518.39 241.5,518.74 243.23,519.14C244.95,519.54 246.68,520.02 248.4,520.46" stroke="#5e81b5" stroke-width="1.35" fill="none" stroke-linejoin="round"/>
<path d="M26,548.66C27.72,548.52 29.45,548.4 31.17,548.25C32.9,548.1 34.62,547.93 36.34,547.75C38.07,547.57 39.79,547.38 41.52,547.18C43.24,546.97 44.96,546.75 46.69,546.53C48.41,546.3 50.14,546.06 51.86,545.81C53.58,545.55 55.31,545.29 57.03,545.02C58.76,544.75 60.48,544.47 62.2,544.18C63.93,543.89 65.65,543.59 67.38,543.29C69.1,542.98 70.82,542.67 72.55,542.35C74.27,542.03 76,541.71 77.72,541.37C79.44,541.04 81.17,540.7 82.89,540.36C84.62,540.02 86.34,539.67 88.07,539.32C89.79,538.97 91.51,538.62 93.24,538.26C94.96,537.91 96.69,537.55 98.41,537.18C100.13,536.82 101.86,536.46 103.58,536.1C105.31,535.73 107.03,535.37 108.75,535C110.48,534.64 112.2,534.27 113.93,533.91C115.65,533.55 117.37,533.19 119.1,532.83C120.82,532.47 122.55,532.11 124.27,531.75C125.99,531.4 127.72,531.05 129.44,530.7C131.17,530.35 132.89,530.01 134.61,529.67C136.34,529.33 138.06,529 139.79,528.67C141.51,528.35 143.23,528.03 144.96,527.71C146.68,527.4 148.41,527.09 150.13,526.79C151.85,526.49 153.58,526.2 155.3,525.92C157.03,525.64 158.75,525.36 160.47,525.1C162.2,524.84 163.92,524.59 165.65,524.34C167.37,524.1 169.09,523.87 170.82,523.65C172.54,523.43 174.27,523.21 175.99,523.02C177.71,522.82 179.44,522.63 181.16,522.46C182.89,522.28 184.61,522.12 186.33,521.97C188.06,521.82 189.78,521.68 191.51,521.56C193.23,521.43 194.96,521.32 196.68,521.23C198.4,521.13 200.13,521.05 201.85,520.98C203.58,520.91 205.3,520.86 207.02,520.82C208.75,520.78 210.47,520.75 212.2,520.74C213.92,520.74 215.64,520.74 217.37,520.77C219.09,520.79 220.82,520.83 222.54,520.88C224.26,520.94 225.99,521.01 227.71,521.1C229.44,521.19 231.16,521.3 232.88,521.43C234.61,521.55 236.33,521.69 238.06,521.85C239.78,522.01 241.5,522.19 243.23,522.39C244.95,522.59 246.68,522.83 248.4,523.05" stroke="#e19c24" stroke-width="1.35" fill="none" stroke-linejoin="round"/>
<path d="M26,516.99C27.72,517.01 29.45,517.03 31.17,517.05C32.9,517.07 34.62,517.1 36.34,517.13C38.07,517.16 39.79,517.2 41.52,517.24C43.24,517.28 44.96,517.32 46.69,517.37C48.41,517.41 50.14,517.47 51.86,517.52C53.58,517.57 55.31,517.63 57.03,517.69C58.76,517.75 60.48,517.82 62.2,517.89C63.93,517.95 65.65,518.02 67.38,518.1C69.1,518.17 70.82,518.24 72.55,518.32C74.27,518.4 76,518.48 77.72,518.56C79.44,518.64 81.17,518.73 82.89,518.81C84.62,518.9 86.34,518.99 88.07,519.08C89.79,519.17 91.51,519.26 93.24,519.35C94.96,519.44 96.69,519.54 98.41,519.63C100.13,519.73 101.86,519.83 103.58,519.92C105.31,520.02 107.03,520.12 108.75,520.22C110.48,520.32 112.2,520.41 113.93,520.51C115.65,520.61 117.37,520.71 119.1,520.81C120.82,520.91 122.55,521.01 124.27,521.11C125.99,521.21 127.72,521.31 129.44,521.41C131.17,521.51 132.89,521.61 134.61,521.71C136.34,521.81 138.06,521.9 139.79,522C141.51,522.1 143.23,522.19 144.96,522.29C146.68,522.38 148.41,522.47 150.13,522.56C151.85,522.65 153.58,522.75 155.3,522.83C157.03,522.92 158.75,523.01 160.47,523.09C162.2,523.18 163.92,523.26 165.65,523.34C167.37,523.42 169.09,523.5 170.82,523.57C172.54,523.65 174.27,523.72 175.99,523.79C177.71,523.86 179.44,523.93 181.16,523.99C182.89,524.06 184.61,524.12 186.33,524.18C188.06,524.23 189.78,524.29 191.51,524.34C193.23,524.39 194.96,524.44 196.68,524.48C198.4,524.53 200.13,524.57 201.85,524.6C203.58,524.64 205.3,524.67 207.02,524.7C208.75,524.72 210.47,524.75 212.2,524.77C213.92,524.78 215.64,524.8 217.37,524.81C219.09,524.82 220.82,524.82 222.54,524.82C224.26,524.82 225.99,524.81 227.71,524.8C229.44,524.79 231.16,524.77 232.88,524.75C234.61,524.73 236.33,524.7 238.06,524.67C239.78,524.63 241.5,524.59 243.23,524.55C244.95,524.5 246.68,524.44 248.4,524.39" stroke="#8fb032" stroke-width="1.35" fill="none" stroke-linejoin="round"/>
<path d="M26,508.98C27.72,509.02 29.45,509.06 31.17,509.11C32.9,509.16 34.62,509.23 36.34,509.3C38.07,509.37 39.79,509.45 41.52,509.54C43.24,509.63 44.96,509.73 46.69,509.84C48.41,509.95 50.14,510.06 51.86,510.18C53.58,510.31 55.31,510.44 57.03,510.57C58.76,510.71 60.48,510.86 62.2,511.01C63.93,511.16 65.65,511.31 67.38,511.48C69.1,511.64 70.82,511.81 72.55,511.98C74.27,512.16 76,512.34 77.72,512.52C79.44,512.7 81.17,512.89 82.89,513.09C84.62,513.28 86.34,513.48 88.07,513.68C89.79,513.88 91.51,514.08 93.24,514.29C94.96,514.5 96.69,514.71 98.41,514.92C100.13,515.13 101.86,515.35 103.58,515.56C105.31,515.78 107.03,516 108.75,516.22C110.48,516.44 112.2,516.66 113.93,516.88C115.65,517.11 117.37,517.33 119.1,517.55C120.82,517.77 122.55,518 124.27,518.22C125.99,518.44 127.72,518.66 129.44,518.89C131.17,519.11 132.89,519.33 134.61,519.55C136.34,519.76 138.06,519.98 139.79,520.2C141.51,520.41 143.23,520.62 144.96,520.83C146.68,521.04 148.41,521.25 150.13,521.45C151.85,521.66 153.58,521.86 155.3,522.06C157.03,522.25 158.75,522.45 160.47,522.63C162.2,522.82 163.92,523.01 165.65,523.18C167.37,523.36 169.09,523.54 170.82,523.71C172.54,523.87 174.27,524.04 175.99,524.19C177.71,524.35 179.44,524.5 181.16,524.64C182.89,524.79 184.61,524.93 186.33,525.05C188.06,525.18 189.78,525.31 191.51,525.42C193.23,525.54 194.96,525.64 196.68,525.74C198.4,525.84 200.13,525.93 201.85,526.01C203.58,526.09 205.3,526.16 207.02,526.22C208.75,526.28 210.47,526.34 212.2,526.38C213.92,526.42 215.64,526.45 217.37,526.48C219.09,526.5 220.82,526.51 222.54,526.51C224.26,526.51 225.99,526.49 227.71,526.47C229.44,526.45 231.16,526.41 232.88,526.36C234.61,526.31 236.33,526.25 238.06,526.18C239.78,526.11 241.5,526.02 243.23,525.92C244.95,525.82 246.68,525.69 248.4,525.58" stroke="#eb6235" stroke-width="1.35" fill="none" stroke-linejoin="round"/>
<path d="M26,485.37C27.72,485.38 29.45,485.35 31.17,485.39C32.9,485.44 34.62,485.52 36.34,485.63C38.07,485.75 39.79,485.9 41.52,486.08C43.24,486.26 44.96,486.48 46.69,486.73C48.41,486.97 50.14,487.25 51.86,487.55C53.58,487.85 55.31,488.19 57.03,488.54C58.76,488.9 60.48,489.28 62.2,489.68C63.93,490.09 65.65,490.51 67.38,490.96C69.1,491.41 70.82,491.88 72.55,492.36C74.27,492.85 76,493.35 77.72,493.87C79.44,494.39 81.17,494.93 82.89,495.48C84.62,496.03 86.34,496.59 88.07,497.16C89.79,497.74 91.51,498.32 93.24,498.92C94.96,499.51 96.69,500.11 98.41,500.72C100.13,501.33 101.86,501.94 103.58,502.56C105.31,503.18 107.03,503.8 108.75,504.42C110.48,505.04 112.2,505.67 113.93,506.29C115.65,506.92 117.37,507.54 119.1,508.16C120.82,508.78 122.55,509.4 124.27,510.01C125.99,510.62 127.72,511.22 129.44,511.82C131.17,512.42 132.89,513.01 134.61,513.58C136.34,514.16 138.06,514.73 139.79,515.29C141.51,515.84 143.23,516.38 144.96,516.91C146.68,517.44 148.41,517.95 150.13,518.45C151.85,518.95 153.58,519.44 155.3,519.91C157.03,520.38 158.75,520.83 160.47,521.27C162.2,521.71 163.92,522.14 165.65,522.54C167.37,522.95 169.09,523.34 170.82,523.72C172.54,524.1 174.27,524.46 175.99,524.8C177.71,525.14 179.44,525.47 181.16,525.78C182.89,526.08 184.61,526.38 186.33,526.65C188.06,526.92 189.78,527.18 191.51,527.42C193.23,527.65 194.96,527.87 196.68,528.07C198.4,528.27 200.13,528.45 201.85,528.62C203.58,528.78 205.3,528.92 207.02,529.04C208.75,529.17 210.47,529.27 212.2,529.35C213.92,529.44 215.64,529.5 217.37,529.54C219.09,529.59 220.82,529.61 222.54,529.61C224.26,529.61 225.99,529.59 227.71,529.55C229.44,529.5 231.16,529.44 232.88,529.35C234.61,529.27 236.33,529.16 238.06,529.03C239.78,528.9 241.5,528.74 243.23,528.57C244.95,528.39 246.68,528.17 248.4,527.97" stroke="#8778b3" stroke-width="1.35" fill="none" stroke-linejoin="round"/>
<path d="M26,453.4C27.72,453.51 29.45,453.58 31.17,453.72C32.9,453.87 34.62,454.04 36.34,454.26C38.07,454.48 39.79,454.74 41.52,455.03C43.24,455.33 44.96,455.67 46.69,456.04C48.41,456.42 50.14,456.84 51.86,457.3C53.58,457.76 55.31,458.26 57.03,458.8C58.76,459.35 60.48,459.93 62.2,460.57C63.93,461.2 65.65,461.88 67.38,462.6C69.1,463.32 70.82,464.09 72.55,464.91C74.27,465.73 76,466.59 77.72,467.5C79.44,468.41 81.17,469.37 82.89,470.38C84.62,471.38 86.34,472.44 88.07,473.53C89.79,474.61 91.51,475.75 93.24,476.9C94.96,478.06 96.69,479.25 98.41,480.46C100.13,481.66 101.86,482.9 103.58,484.14C105.31,485.39 107.03,486.65 108.75,487.92C110.48,489.18 112.2,490.46 113.93,491.73C115.65,493 117.37,494.28 119.1,495.54C120.82,496.8 122.55,498.06 124.27,499.3C125.99,500.54 127.72,501.77 129.44,502.96C131.17,504.16 132.89,505.34 134.61,506.48C136.34,507.62 138.06,508.74 139.79,509.81C141.51,510.88 143.23,511.92 144.96,512.91C146.68,513.9 148.41,514.85 150.13,515.76C151.85,516.67 153.58,517.53 155.3,518.36C157.03,519.19 158.75,519.98 160.47,520.73C162.2,521.48 163.92,522.2 165.65,522.87C167.37,523.55 169.09,524.18 170.82,524.78C172.54,525.38 174.27,525.95 175.99,526.48C177.71,527 179.44,527.5 181.16,527.96C182.89,528.41 184.61,528.84 186.33,529.23C188.06,529.62 189.78,529.97 191.51,530.3C193.23,530.62 194.96,530.91 196.68,531.17C198.4,531.43 200.13,531.65 201.85,531.85C203.58,532.05 205.3,532.21 207.02,532.35C208.75,532.48 210.47,532.59 212.2,532.67C213.92,532.75 215.64,532.79 217.37,532.81C219.09,532.83 220.82,532.83 222.54,532.79C224.26,532.76 225.99,532.7 227.71,532.61C229.44,532.52 231.16,532.41 232.88,532.27C234.61,532.13 236.33,531.97 238.06,531.78C239.78,531.6 241.5,531.39 243.23,531.15C244.95,530.92 246.68,530.64 248.4,530.38" stroke="#c56e1a" stroke-width="1.35" fill="none" stroke-linejoin="round"/>
<text x="138.5" y="420.2" font-size="9.7" text-anchor="middle" fill="#1a1a1a"><tspan font-style="italic">v</tspan>=1/4, <tspan font-style="italic">ζ</tspan>=<tspan font-style="italic">π</tspan>/10, <tspan font-style="italic">β</tspan>=2</text>
<g transform="translate(9.5,436.5)" fill="#1a1a1a"><text x="-0.2" y="0.5" font-size="9.8">−</text><polyline points="8.6,-8.0 6.3,-2.9 8.6,2.2" fill="none" stroke="#1a1a1a" stroke-width="1"/><text x="9.6" y="-0.4" font-size="9.6" font-style="italic" font-family='Liberation Serif', serif>T</text><polyline points="11.4,-8.6 12.8,-11.0 14.2,-8.6" fill="none" stroke="#1a1a1a" stroke-width="0.7"/><text x="17.7" y="-8.5" font-size="7.6" font-style="italic" font-family='Liberation Serif', serif>τ</text><text x="16.8" y="2.1" font-size="7.6" font-style="italic" font-family='Liberation Serif', serif>τ</text><polyline points="20.9,-8.0 23.2,-2.9 20.9,2.2" fill="none" stroke="#1a1a1a" stroke-width="1"/><text x="23.8" y="-6.4" font-size="6.6" font-style="italic">ζ</text><text x="24.0" y="1.0" font-size="6.6" font-style="italic">β</text></g>
<rect x="269.8" y="443.5" width="62" height="110.3" fill="#fff" stroke="#1e1e1e" stroke-width="1.3"/>
<line x1="276.8" y1="456.5" x2="291.6" y2="456.5" stroke="#5e81b5" stroke-width="1.2"/>
<text x="296.7" y="459.6" font-size="8.85" fill="#1a1a1a"><tspan font-style="italic">ξ</tspan>=−1</text>
<line x1="276.8" y1="473.5" x2="291.6" y2="473.5" stroke="#e19c24" stroke-width="1.2"/>
<text x="296.7" y="476.6" font-size="8.85" fill="#1a1a1a"><tspan font-style="italic">ξ</tspan>=−1/2</text>
<line x1="276.8" y1="490.5" x2="291.6" y2="490.5" stroke="#8fb032" stroke-width="1.2"/>
<text x="296.7" y="493.5" font-size="8.85" fill="#1a1a1a"><tspan font-style="italic">ξ</tspan>=0</text>
<line x1="276.8" y1="506.5" x2="291.6" y2="506.5" stroke="#eb6235" stroke-width="1.2"/>
<text x="296.7" y="510" font-size="8.85" fill="#1a1a1a"><tspan font-style="italic">ξ</tspan>=1/8</text>
<line x1="276.8" y1="523.5" x2="291.6" y2="523.5" stroke="#8778b3" stroke-width="1.2"/>
<text x="296.7" y="527" font-size="8.85" fill="#1a1a1a"><tspan font-style="italic">ξ</tspan>=1/2</text>
<line x1="276.8" y1="540.5" x2="291.6" y2="540.5" stroke="#c56e1a" stroke-width="1.2"/>
<text x="296.7" y="543.8" font-size="8.85" fill="#1a1a1a"><tspan font-style="italic">ξ</tspan>=1</text>
<line x1="376.5" y1="447.3" x2="376.5" y2="586.7" stroke="#404040" stroke-width="1"/>
<path d="M376.5,584.5h1.7M376.5,577.5h1.7M376.5,571.5h1.7M376.5,564.5h1.7M376.5,558.5h3M376.5,551.5h1.7M376.5,545.5h1.7M376.5,538.5h1.7M376.5,532.5h1.7M376.5,526.5h3M376.5,519.5h1.7M376.5,513.5h1.7M376.5,506.5h1.7M376.5,500.5h1.7M376.5,493.5h3M376.5,487.5h1.7M376.5,480.5h1.7M376.5,474.5h1.7M376.5,467.5h1.7M376.5,461.5h3M376.5,454.5h1.7M376.5,448.5h1.7" stroke="#404040" stroke-width="1" fill="none"/>
<g font-size="8.8" text-anchor="end" fill="#1a1a1a"><text x="373.9" y="561.7">−0.05</text><text x="373.9" y="529.3">0.00</text><text x="373.9" y="496.9">0.05</text><text x="373.9" y="464.5">0.10</text></g>
<line x1="376.5" y1="526" x2="605" y2="526" stroke="#404040" stroke-width="1.2"/>
<path d="M456.5,526v-2.8M535.5,526v-2.8" stroke="#404040" stroke-width="1"/>
<text x="456" y="533.5" font-size="8.8" font-style="italic" text-anchor="middle" fill="#1a1a1a">π</text>
<line x1="452" y1="536.2" x2="459" y2="536.2" stroke="#1a1a1a" stroke-width="1.1"/>
<text x="456" y="546.2" font-size="8.8" text-anchor="middle" fill="#1a1a1a">6</text>
<text x="535" y="533.5" font-size="8.8" font-style="italic" text-anchor="middle" fill="#1a1a1a">π</text>
<line x1="531" y1="536.2" x2="538" y2="536.2" stroke="#1a1a1a" stroke-width="1.1"/>
<text x="535" y="546.2" font-size="8.8" text-anchor="middle" fill="#1a1a1a">3</text>
<text x="611.5" y="530.6" font-size="10" font-style="italic" fill="#1a1a1a">ρ</text>
<path d="M378.2,479.41C379.93,479.36 381.65,479.36 383.38,479.26C385.11,479.16 386.84,479.01 388.56,478.82C390.29,478.63 392.02,478.39 393.74,478.12C395.47,477.85 397.2,477.54 398.93,477.2C400.65,476.86 402.38,476.48 404.11,476.08C405.83,475.68 407.56,475.25 409.29,474.81C411.02,474.36 412.74,473.89 414.47,473.4C416.2,472.92 417.92,472.42 419.65,471.91C421.38,471.4 423.11,470.87 424.83,470.35C426.56,469.82 428.29,469.29 430.01,468.76C431.74,468.23 433.47,467.7 435.2,467.17C436.92,466.65 438.65,466.13 440.38,465.62C442.1,465.11 443.83,464.61 445.56,464.13C447.29,463.64 449.01,463.16 450.74,462.7C452.47,462.24 454.19,461.79 455.92,461.35C457.65,460.92 459.38,460.49 461.1,460.09C462.83,459.68 464.56,459.29 466.28,458.91C468.01,458.53 469.74,458.17 471.47,457.83C473.19,457.49 474.92,457.16 476.65,456.85C478.37,456.55 480.1,456.26 481.83,455.99C483.56,455.72 485.28,455.47 487.01,455.24C488.74,455.02 490.46,454.81 492.19,454.62C493.92,454.44 495.64,454.28 497.37,454.14C499.1,454.01 500.83,453.9 502.55,453.82C504.28,453.75 506.01,453.7 507.73,453.69C509.46,453.68 511.19,453.7 512.92,453.77C514.64,453.83 516.37,453.93 518.1,454.07C519.82,454.22 521.55,454.4 523.28,454.63C525.01,454.86 526.73,455.14 528.46,455.47C530.19,455.8 531.91,456.17 533.64,456.6C535.37,457.04 537.1,457.52 538.82,458.06C540.55,458.61 542.28,459.21 544,459.87C545.73,460.53 547.46,461.25 549.19,462.04C550.91,462.84 552.64,463.69 554.37,464.61C556.09,465.54 557.82,466.53 559.55,467.59C561.28,468.66 563,469.8 564.73,471.01C566.46,472.23 568.18,473.52 569.91,474.89C571.64,476.27 573.37,477.71 575.09,479.26C576.82,480.81 578.55,482.43 580.27,484.17C582,485.9 583.73,487.73 585.46,489.67C587.18,491.61 588.91,493.65 590.64,495.82C592.36,497.99 594.09,500.27 595.82,502.68C597.55,505.09 599.27,507.76 601,510.3" stroke="#5e81b5" stroke-width="1.35" fill="none" stroke-linejoin="round"/>
<path d="M378.2,491.81C379.93,491.72 381.65,491.64 383.38,491.54C385.11,491.44 386.84,491.34 388.56,491.23C390.29,491.12 392.02,491 393.74,490.88C395.47,490.76 397.2,490.63 398.93,490.5C400.65,490.37 402.38,490.23 404.11,490.09C405.83,489.95 407.56,489.81 409.29,489.66C411.02,489.52 412.74,489.37 414.47,489.22C416.2,489.07 417.92,488.91 419.65,488.76C421.38,488.61 423.11,488.45 424.83,488.3C426.56,488.14 428.29,487.99 430.01,487.83C431.74,487.68 433.47,487.52 435.2,487.37C436.92,487.22 438.65,487.07 440.38,486.92C442.1,486.77 443.83,486.62 445.56,486.48C447.29,486.34 449.01,486.19 450.74,486.06C452.47,485.92 454.19,485.79 455.92,485.66C457.65,485.54 459.38,485.41 461.1,485.3C462.83,485.18 464.56,485.07 466.28,484.96C468.01,484.86 469.74,484.76 471.47,484.67C473.19,484.58 474.92,484.5 476.65,484.42C478.37,484.35 480.1,484.28 481.83,484.22C483.56,484.17 485.28,484.12 487.01,484.08C488.74,484.04 490.46,484.01 492.19,484C493.92,483.98 495.64,483.97 497.37,483.98C499.1,483.98 500.83,484 502.55,484.03C504.28,484.06 506.01,484.1 507.73,484.15C509.46,484.21 511.19,484.28 512.92,484.37C514.64,484.46 516.37,484.57 518.1,484.7C519.82,484.82 521.55,484.97 523.28,485.13C525.01,485.3 526.73,485.48 528.46,485.7C530.19,485.91 531.91,486.14 533.64,486.4C535.37,486.66 537.1,486.94 538.82,487.25C540.55,487.56 542.28,487.9 544,488.27C545.73,488.63 547.46,489.03 549.19,489.46C550.91,489.89 552.64,490.34 554.37,490.84C556.09,491.33 557.82,491.85 559.55,492.42C561.28,492.98 563,493.57 564.73,494.21C566.46,494.85 568.18,495.53 569.91,496.27C571.64,497 573.37,497.78 575.09,498.63C576.82,499.48 578.55,500.38 580.27,501.36C582,502.34 583.73,503.38 585.46,504.51C587.18,505.63 588.91,506.83 590.64,508.12C592.36,509.41 594.09,510.78 595.82,512.25C597.55,513.72 599.27,515.38 601,516.95" stroke="#e19c24" stroke-width="1.35" fill="none" stroke-linejoin="round"/>
<path d="M378.2,503.78C379.93,503.85 381.65,503.92 383.38,503.99C385.11,504.07 386.84,504.15 388.56,504.24C390.29,504.33 392.02,504.42 393.74,504.52C395.47,504.63 397.2,504.73 398.93,504.85C400.65,504.96 402.38,505.08 404.11,505.2C405.83,505.33 407.56,505.46 409.29,505.59C411.02,505.73 412.74,505.87 414.47,506.01C416.2,506.16 417.92,506.3 419.65,506.46C421.38,506.61 423.11,506.77 424.83,506.93C426.56,507.09 428.29,507.26 430.01,507.43C431.74,507.6 433.47,507.77 435.2,507.95C436.92,508.12 438.65,508.3 440.38,508.49C442.1,508.67 443.83,508.85 445.56,509.04C447.29,509.23 449.01,509.42 450.74,509.61C452.47,509.81 454.19,510 455.92,510.2C457.65,510.4 459.38,510.59 461.1,510.79C462.83,511 464.56,511.2 466.28,511.4C468.01,511.6 469.74,511.81 471.47,512.01C473.19,512.22 474.92,512.43 476.65,512.63C478.37,512.84 480.1,513.05 481.83,513.25C483.56,513.46 485.28,513.67 487.01,513.88C488.74,514.08 490.46,514.29 492.19,514.5C493.92,514.7 495.64,514.91 497.37,515.12C499.1,515.32 500.83,515.52 502.55,515.73C504.28,515.93 506.01,516.13 507.73,516.33C509.46,516.53 511.19,516.73 512.92,516.93C514.64,517.13 516.37,517.32 518.1,517.51C519.82,517.71 521.55,517.9 523.28,518.08C525.01,518.27 526.73,518.46 528.46,518.64C530.19,518.82 531.91,519 533.64,519.18C535.37,519.35 537.1,519.52 538.82,519.69C540.55,519.86 542.28,520.03 544,520.19C545.73,520.35 547.46,520.51 549.19,520.66C550.91,520.81 552.64,520.96 554.37,521.11C556.09,521.25 557.82,521.39 559.55,521.52C561.28,521.66 563,521.79 564.73,521.91C566.46,522.03 568.18,522.15 569.91,522.26C571.64,522.38 573.37,522.48 575.09,522.58C576.82,522.68 578.55,522.78 580.27,522.87C582,522.95 583.73,523.04 585.46,523.11C587.18,523.19 588.91,523.25 590.64,523.31C592.36,523.37 594.09,523.43 595.82,523.48C597.55,523.52 599.27,523.55 601,523.59" stroke="#8fb032" stroke-width="1.35" fill="none" stroke-linejoin="round"/>
<path d="M378.2,506.97C379.93,507.1 381.65,507.23 383.38,507.37C385.11,507.51 386.84,507.66 388.56,507.81C390.29,507.97 392.02,508.13 393.74,508.3C395.47,508.47 397.2,508.65 398.93,508.83C400.65,509.02 402.38,509.21 404.11,509.4C405.83,509.6 407.56,509.8 409.29,510C411.02,510.21 412.74,510.42 414.47,510.64C416.2,510.85 417.92,511.07 419.65,511.3C421.38,511.52 423.11,511.75 424.83,511.98C426.56,512.22 428.29,512.45 430.01,512.69C431.74,512.93 433.47,513.17 435.2,513.41C436.92,513.66 438.65,513.9 440.38,514.15C442.1,514.4 443.83,514.65 445.56,514.9C447.29,515.15 449.01,515.41 450.74,515.66C452.47,515.91 454.19,516.17 455.92,516.42C457.65,516.68 459.38,516.93 461.1,517.19C462.83,517.44 464.56,517.69 466.28,517.95C468.01,518.2 469.74,518.45 471.47,518.7C473.19,518.96 474.92,519.21 476.65,519.45C478.37,519.7 480.1,519.95 481.83,520.19C483.56,520.43 485.28,520.67 487.01,520.91C488.74,521.15 490.46,521.38 492.19,521.62C493.92,521.85 495.64,522.07 497.37,522.3C499.1,522.52 500.83,522.74 502.55,522.95C504.28,523.17 506.01,523.38 507.73,523.58C509.46,523.79 511.19,523.99 512.92,524.18C514.64,524.38 516.37,524.56 518.1,524.75C519.82,524.93 521.55,525.1 523.28,525.27C525.01,525.44 526.73,525.6 528.46,525.76C530.19,525.91 531.91,526.06 533.64,526.2C535.37,526.33 537.1,526.47 538.82,526.59C540.55,526.71 542.28,526.82 544,526.93C545.73,527.03 547.46,527.13 549.19,527.22C550.91,527.3 552.64,527.38 554.37,527.45C556.09,527.51 557.82,527.57 559.55,527.62C561.28,527.66 563,527.7 564.73,527.72C566.46,527.75 568.18,527.76 569.91,527.76C571.64,527.76 573.37,527.75 575.09,527.73C576.82,527.7 578.55,527.67 580.27,527.62C582,527.57 583.73,527.51 585.46,527.44C587.18,527.36 588.91,527.27 590.64,527.17C592.36,527.07 594.09,526.95 595.82,526.82C597.55,526.69 599.27,526.53 601,526.39" stroke="#eb6235" stroke-width="1.35" fill="none" stroke-linejoin="round"/>
<path d="M378.2,515.79C379.93,515.83 381.65,515.83 383.38,515.91C385.11,515.99 386.84,516.1 388.56,516.24C390.29,516.39 392.02,516.57 393.74,516.78C395.47,516.98 397.2,517.22 398.93,517.49C400.65,517.76 402.38,518.05 404.11,518.37C405.83,518.69 407.56,519.03 409.29,519.4C411.02,519.77 412.74,520.16 414.47,520.56C416.2,520.97 417.92,521.4 419.65,521.85C421.38,522.29 423.11,522.76 424.83,523.23C426.56,523.71 428.29,524.2 430.01,524.71C431.74,525.21 433.47,525.73 435.2,526.25C436.92,526.78 438.65,527.31 440.38,527.85C442.1,528.39 443.83,528.94 445.56,529.49C447.29,530.04 449.01,530.6 450.74,531.16C452.47,531.71 454.19,532.27 455.92,532.83C457.65,533.39 459.38,533.94 461.1,534.5C462.83,535.05 464.56,535.6 466.28,536.14C468.01,536.68 469.74,537.22 471.47,537.74C473.19,538.27 474.92,538.78 476.65,539.29C478.37,539.79 480.1,540.29 481.83,540.77C483.56,541.25 485.28,541.71 487.01,542.16C488.74,542.61 490.46,543.04 492.19,543.45C493.92,543.86 495.64,544.26 497.37,544.64C499.1,545.02 500.83,545.38 502.55,545.72C504.28,546.06 506.01,546.39 507.73,546.69C509.46,547 511.19,547.29 512.92,547.55C514.64,547.82 516.37,548.07 518.1,548.3C519.82,548.53 521.55,548.74 523.28,548.93C525.01,549.12 526.73,549.29 528.46,549.43C530.19,549.58 531.91,549.7 533.64,549.79C535.37,549.89 537.1,549.96 538.82,550C540.55,550.04 542.28,550.06 544,550.04C545.73,550.02 547.46,549.97 549.19,549.88C550.91,549.79 552.64,549.67 554.37,549.5C556.09,549.33 557.82,549.12 559.55,548.86C561.28,548.61 563,548.3 564.73,547.94C566.46,547.59 568.18,547.18 569.91,546.71C571.64,546.24 573.37,545.72 575.09,545.13C576.82,544.55 578.55,543.9 580.27,543.18C582,542.47 583.73,541.69 585.46,540.83C587.18,539.97 588.91,539.05 590.64,538.04C592.36,537.04 594.09,535.96 595.82,534.8C597.55,533.63 599.27,532.3 601,531.05" stroke="#8778b3" stroke-width="1.35" fill="none" stroke-linejoin="round"/>
<path d="M378.2,528.41C379.93,528.47 381.65,528.48 383.38,528.6C385.11,528.73 386.84,528.91 388.56,529.15C390.29,529.38 392.02,529.68 393.74,530.02C395.47,530.36 397.2,530.75 398.93,531.18C400.65,531.62 402.38,532.1 404.11,532.62C405.83,533.14 407.56,533.7 409.29,534.3C411.02,534.9 412.74,535.54 414.47,536.2C416.2,536.87 417.92,537.57 419.65,538.3C421.38,539.02 423.11,539.78 424.83,540.56C426.56,541.33 428.29,542.14 430.01,542.96C431.74,543.78 433.47,544.62 435.2,545.47C436.92,546.33 438.65,547.2 440.38,548.08C442.1,548.95 443.83,549.85 445.56,550.74C447.29,551.64 449.01,552.54 450.74,553.44C452.47,554.34 454.19,555.25 455.92,556.15C457.65,557.05 459.38,557.96 461.1,558.85C462.83,559.74 464.56,560.63 466.28,561.5C468.01,562.37 469.74,563.24 471.47,564.09C473.19,564.93 474.92,565.76 476.65,566.57C478.37,567.38 480.1,568.18 481.83,568.94C483.56,569.71 485.28,570.45 487.01,571.17C488.74,571.88 490.46,572.56 492.19,573.21C493.92,573.86 495.64,574.48 497.37,575.05C499.1,575.61 500.83,576.15 502.55,576.63C504.28,577.11 506.01,577.54 507.73,577.92C509.46,578.3 511.19,578.61 512.92,578.89C514.64,579.16 516.37,579.37 518.1,579.55C519.82,579.73 521.55,579.87 523.28,579.99C525.01,580.11 526.73,580.19 528.46,580.27C530.19,580.35 531.91,580.42 533.64,580.47C535.37,580.51 537.1,580.55 538.82,580.53C540.55,580.51 542.28,580.47 544,580.35C545.73,580.23 547.46,580.07 549.19,579.81C550.91,579.56 552.64,579.24 554.37,578.81C556.09,578.37 557.82,577.86 559.55,577.22C561.28,576.57 563,575.83 564.73,574.94C566.46,574.04 568.18,573.03 569.91,571.85C571.64,570.68 573.37,569.34 575.09,567.88C576.82,566.42 578.55,564.8 580.27,563.08C582,561.36 583.73,559.51 585.46,557.56C587.18,555.61 588.91,553.55 590.64,551.41C592.36,549.27 594.09,547.02 595.82,544.72C597.55,542.41 599.27,539.97 601,537.59" stroke="#c56e1a" stroke-width="1.35" fill="none" stroke-linejoin="round"/>
<text x="490.8" y="420.2" font-size="9.7" text-anchor="middle" fill="#1a1a1a"><tspan font-style="italic">v</tspan>=3/4, <tspan font-style="italic">ζ</tspan>=<tspan font-style="italic">π</tspan>/10, <tspan font-style="italic">β</tspan>=2</text>
<g transform="translate(362,436.5)" fill="#1a1a1a"><text x="-0.2" y="0.5" font-size="9.8">−</text><polyline points="8.6,-8.0 6.3,-2.9 8.6,2.2" fill="none" stroke="#1a1a1a" stroke-width="1"/><text x="9.6" y="-0.4" font-size="9.6" font-style="italic" font-family='Liberation Serif', serif>T</text><polyline points="11.4,-8.6 12.8,-11.0 14.2,-8.6" fill="none" stroke="#1a1a1a" stroke-width="0.7"/><text x="17.7" y="-8.5" font-size="7.6" font-style="italic" font-family='Liberation Serif', serif>τ</text><text x="16.8" y="2.1" font-size="7.6" font-style="italic" font-family='Liberation Serif', serif>τ</text><polyline points="20.9,-8.0 23.2,-2.9 20.9,2.2" fill="none" stroke="#1a1a1a" stroke-width="1"/><text x="23.8" y="-6.4" font-size="6.6" font-style="italic">ζ</text><text x="24.0" y="1.0" font-size="6.6" font-style="italic">β</text></g>
<rect x="622.2" y="443.5" width="61.9" height="110.2" fill="#fff" stroke="#1e1e1e" stroke-width="1.3"/>
<line x1="629.2" y1="456.5" x2="644" y2="456.5" stroke="#5e81b5" stroke-width="1.2"/>
<text x="649.1" y="460" font-size="8.85" fill="#1a1a1a"><tspan font-style="italic">ξ</tspan>=−1</text>
<line x1="629.2" y1="473.5" x2="644" y2="473.5" stroke="#e19c24" stroke-width="1.2"/>
<text x="649.1" y="476.5" font-size="8.85" fill="#1a1a1a"><tspan font-style="italic">ξ</tspan>=−1/2</text>
<line x1="629.2" y1="490.5" x2="644" y2="490.5" stroke="#8fb032" stroke-width="1.2"/>
<text x="649.1" y="493.4" font-size="8.85" fill="#1a1a1a"><tspan font-style="italic">ξ</tspan>=0</text>
<line x1="629.2" y1="507.5" x2="644" y2="507.5" stroke="#eb6235" stroke-width="1.2"/>
<text x="649.1" y="510.3" font-size="8.85" fill="#1a1a1a"><tspan font-style="italic">ξ</tspan>=1/8</text>
<line x1="629.2" y1="523.5" x2="644" y2="523.5" stroke="#8778b3" stroke-width="1.2"/>
<text x="649.1" y="526.9" font-size="8.85" fill="#1a1a1a"><tspan font-style="italic">ξ</tspan>=1/2</text>
<line x1="629.2" y1="540.5" x2="644" y2="540.5" stroke="#c56e1a" stroke-width="1.2"/>
<text x="649.1" y="544.1" font-size="8.85" fill="#1a1a1a"><tspan font-style="italic">ξ</tspan>=1</text>
<line x1="24" y1="645.6" x2="24" y2="787" stroke="#404040" stroke-width="1"/>
<path d="M24,783.5h1.7M24,779.5h1.7M24,775.5h1.7M24,771.5h3M24,767.5h1.7M24,764.5h1.7M24,760.5h1.7M24,756.5h1.7M24,752.5h3M24,748.5h1.7M24,744.5h1.7M24,740.5h1.7M24,736.5h1.7M24,732.5h3M24,728.5h1.7M24,724.5h1.7M24,720.5h1.7M24,716.5h1.7M24,712.5h3M24,708.5h1.7M24,704.5h1.7M24,700.5h1.7M24,697.5h1.7M24,693.5h3M24,689.5h1.7M24,685.5h1.7M24,681.5h1.7M24,677.5h1.7M24,673.5h3M24,669.5h1.7M24,665.5h1.7M24,661.5h1.7M24,657.5h1.7M24,653.5h3M24,649.5h1.7M24,645.5h1.7" stroke="#404040" stroke-width="1" fill="none"/>
<g font-size="8.8" text-anchor="end" fill="#1a1a1a"><text x="21.4" y="775.2">−0.02</text><text x="21.4" y="755.5">−0.01</text><text x="21.4" y="735.8">0.00</text><text x="21.4" y="716.1">0.01</text><text x="21.4" y="696.4">0.02</text><text x="21.4" y="676.7">0.03</text><text x="21.4" y="657">0.04</text></g>
<line x1="24" y1="732.5" x2="252.4" y2="732.5" stroke="#404040" stroke-width="1.2"/>
<path d="M103.5,732.5v-2.8M182.5,732.5v-2.8" stroke="#404040" stroke-width="1"/>
<text x="103.3" y="740" font-size="8.8" font-style="italic" text-anchor="middle" fill="#1a1a1a">π</text>
<line x1="99.3" y1="742.7" x2="106.3" y2="742.7" stroke="#1a1a1a" stroke-width="1.1"/>
<text x="103.3" y="752.7" font-size="8.8" text-anchor="middle" fill="#1a1a1a">6</text>
<text x="182.6" y="740" font-size="8.8" font-style="italic" text-anchor="middle" fill="#1a1a1a">π</text>
<line x1="178.6" y1="742.7" x2="185.6" y2="742.7" stroke="#1a1a1a" stroke-width="1.1"/>
<text x="182.6" y="752.7" font-size="8.8" text-anchor="middle" fill="#1a1a1a">3</text>
<text x="258.9" y="737.1" font-size="10" font-style="italic" fill="#1a1a1a">ρ</text>
<path d="M26,779.69C27.72,779.63 29.45,779.68 31.17,779.51C32.9,779.33 34.62,779.04 36.34,778.65C38.07,778.26 39.79,777.76 41.52,777.17C43.24,776.58 44.96,775.89 46.69,775.12C48.41,774.35 50.14,773.48 51.86,772.55C53.58,771.61 55.31,770.59 57.03,769.51C58.76,768.42 60.48,767.26 62.2,766.04C63.93,764.82 65.65,763.54 67.38,762.2C69.1,760.87 70.82,759.48 72.55,758.04C74.27,756.61 76,755.12 77.72,753.61C79.44,752.09 81.17,750.53 82.89,748.95C84.62,747.37 86.34,745.75 88.07,744.12C89.79,742.49 91.51,740.83 93.24,739.16C94.96,737.5 96.69,735.81 98.41,734.13C100.13,732.44 101.86,730.75 103.58,729.06C105.31,727.38 107.03,725.69 108.75,724.01C110.48,722.34 112.2,720.67 113.93,719.02C115.65,717.37 117.37,715.74 119.1,714.13C120.82,712.52 122.55,710.93 124.27,709.37C125.99,707.82 127.72,706.29 129.44,704.8C131.17,703.31 132.89,701.86 134.61,700.45C136.34,699.04 138.06,697.67 139.79,696.36C141.51,695.05 143.23,693.78 144.96,692.57C146.68,691.37 148.41,690.21 150.13,689.12C151.85,688.03 153.58,687 155.3,686.04C157.03,685.07 158.75,684.17 160.47,683.35C162.2,682.52 163.92,681.76 165.65,681.08C167.37,680.39 169.09,679.78 170.82,679.24C172.54,678.7 174.27,678.23 175.99,677.83C177.71,677.44 179.44,677.11 181.16,676.86C182.89,676.61 184.61,676.43 186.33,676.32C188.06,676.21 189.78,676.17 191.51,676.2C193.23,676.23 194.96,676.34 196.68,676.51C198.4,676.67 200.13,676.91 201.85,677.22C203.58,677.53 205.3,677.9 207.02,678.34C208.75,678.78 210.47,679.29 212.2,679.87C213.92,680.45 215.64,681.1 217.37,681.82C219.09,682.54 220.82,683.33 222.54,684.18C224.26,685.04 225.99,685.97 227.71,686.97C229.44,687.97 231.16,689.04 232.88,690.18C234.61,691.32 236.33,692.53 238.06,693.82C239.78,695.1 241.5,696.46 243.23,697.89C244.95,699.31 246.68,700.89 248.4,702.39" stroke="#5e81b5" stroke-width="1.35" fill="none" stroke-linejoin="round"/>
<path d="M26,747.71C27.72,747.66 29.45,747.65 31.17,747.55C32.9,747.45 34.62,747.29 36.34,747.09C38.07,746.89 39.79,746.64 41.52,746.36C43.24,746.07 44.96,745.74 46.69,745.37C48.41,745 50.14,744.59 51.86,744.15C53.58,743.7 55.31,743.22 57.03,742.71C58.76,742.2 60.48,741.66 62.2,741.09C63.93,740.52 65.65,739.92 67.38,739.3C69.1,738.68 70.82,738.03 72.55,737.37C74.27,736.7 76,736.01 77.72,735.31C79.44,734.61 81.17,733.88 82.89,733.15C84.62,732.41 86.34,731.66 88.07,730.9C89.79,730.15 91.51,729.37 93.24,728.6C94.96,727.83 96.69,727.04 98.41,726.26C100.13,725.48 101.86,724.69 103.58,723.9C105.31,723.12 107.03,722.33 108.75,721.55C110.48,720.77 112.2,719.99 113.93,719.23C115.65,718.46 117.37,717.7 119.1,716.95C120.82,716.2 122.55,715.46 124.27,714.74C125.99,714.02 127.72,713.32 129.44,712.63C131.17,711.94 132.89,711.27 134.61,710.63C136.34,709.98 138.06,709.36 139.79,708.76C141.51,708.17 143.23,707.59 144.96,707.05C146.68,706.51 148.41,705.99 150.13,705.51C151.85,705.02 153.58,704.57 155.3,704.14C157.03,703.71 158.75,703.32 160.47,702.95C162.2,702.59 163.92,702.25 165.65,701.95C167.37,701.64 169.09,701.37 170.82,701.13C172.54,700.89 174.27,700.69 175.99,700.52C177.71,700.34 179.44,700.2 181.16,700.1C182.89,699.99 184.61,699.92 186.33,699.89C188.06,699.86 189.78,699.86 191.51,699.89C193.23,699.93 194.96,700 196.68,700.12C198.4,700.23 200.13,700.38 201.85,700.56C203.58,700.75 205.3,700.97 207.02,701.24C208.75,701.5 210.47,701.81 212.2,702.15C213.92,702.5 215.64,702.88 217.37,703.3C219.09,703.73 220.82,704.19 222.54,704.7C224.26,705.21 225.99,705.76 227.71,706.35C229.44,706.95 231.16,707.58 232.88,708.26C234.61,708.94 236.33,709.67 238.06,710.43C239.78,711.2 241.5,712.02 243.23,712.88C244.95,713.74 246.68,714.69 248.4,715.59" stroke="#e19c24" stroke-width="1.35" fill="none" stroke-linejoin="round"/>
<path d="M26,716.28C27.72,716.31 29.45,716.34 31.17,716.37C32.9,716.4 34.62,716.44 36.34,716.47C38.07,716.51 39.79,716.54 41.52,716.58C43.24,716.62 44.96,716.66 46.69,716.7C48.41,716.74 50.14,716.79 51.86,716.83C53.58,716.88 55.31,716.92 57.03,716.97C58.76,717.02 60.48,717.07 62.2,717.12C63.93,717.18 65.65,717.23 67.38,717.29C69.1,717.34 70.82,717.4 72.55,717.46C74.27,717.52 76,717.58 77.72,717.64C79.44,717.7 81.17,717.77 82.89,717.83C84.62,717.9 86.34,717.96 88.07,718.03C89.79,718.1 91.51,718.17 93.24,718.24C94.96,718.32 96.69,718.39 98.41,718.47C100.13,718.54 101.86,718.62 103.58,718.7C105.31,718.78 107.03,718.86 108.75,718.94C110.48,719.02 112.2,719.1 113.93,719.19C115.65,719.27 117.37,719.36 119.1,719.45C120.82,719.53 122.55,719.62 124.27,719.71C125.99,719.8 127.72,719.9 129.44,719.99C131.17,720.08 132.89,720.18 134.61,720.28C136.34,720.37 138.06,720.47 139.79,720.57C141.51,720.67 143.23,720.77 144.96,720.87C146.68,720.97 148.41,721.08 150.13,721.18C151.85,721.29 153.58,721.4 155.3,721.5C157.03,721.61 158.75,721.72 160.47,721.83C162.2,721.94 163.92,722.06 165.65,722.17C167.37,722.28 169.09,722.4 170.82,722.51C172.54,722.63 174.27,722.75 175.99,722.87C177.71,722.99 179.44,723.11 181.16,723.23C182.89,723.35 184.61,723.47 186.33,723.6C188.06,723.72 189.78,723.85 191.51,723.97C193.23,724.1 194.96,724.23 196.68,724.36C198.4,724.48 200.13,724.62 201.85,724.75C203.58,724.88 205.3,725.01 207.02,725.15C208.75,725.28 210.47,725.41 212.2,725.55C213.92,725.69 215.64,725.83 217.37,725.96C219.09,726.1 220.82,726.24 222.54,726.38C224.26,726.53 225.99,726.67 227.71,726.81C229.44,726.96 231.16,727.1 232.88,727.25C234.61,727.39 236.33,727.54 238.06,727.69C239.78,727.83 241.5,727.98 243.23,728.13C244.95,728.28 246.68,728.44 248.4,728.59" stroke="#8fb032" stroke-width="1.35" fill="none" stroke-linejoin="round"/>
<path d="M26,707.98C27.72,708.04 29.45,708.09 31.17,708.16C32.9,708.24 34.62,708.33 36.34,708.43C38.07,708.54 39.79,708.66 41.52,708.79C43.24,708.93 44.96,709.08 46.69,709.24C48.41,709.4 50.14,709.57 51.86,709.75C53.58,709.94 55.31,710.14 57.03,710.34C58.76,710.55 60.48,710.77 62.2,710.99C63.93,711.22 65.65,711.46 67.38,711.7C69.1,711.95 70.82,712.2 72.55,712.46C74.27,712.72 76,712.99 77.72,713.26C79.44,713.54 81.17,713.82 82.89,714.11C84.62,714.39 86.34,714.68 88.07,714.98C89.79,715.28 91.51,715.58 93.24,715.88C94.96,716.18 96.69,716.49 98.41,716.8C100.13,717.11 101.86,717.42 103.58,717.73C105.31,718.04 107.03,718.36 108.75,718.67C110.48,718.99 112.2,719.3 113.93,719.61C115.65,719.93 117.37,720.24 119.1,720.55C120.82,720.86 122.55,721.17 124.27,721.47C125.99,721.78 127.72,722.08 129.44,722.38C131.17,722.68 132.89,722.97 134.61,723.26C136.34,723.55 138.06,723.84 139.79,724.12C141.51,724.39 143.23,724.67 144.96,724.93C146.68,725.2 148.41,725.46 150.13,725.71C151.85,725.96 153.58,726.21 155.3,726.45C157.03,726.69 158.75,726.92 160.47,727.14C162.2,727.37 163.92,727.58 165.65,727.79C167.37,728.01 169.09,728.21 170.82,728.4C172.54,728.6 174.27,728.79 175.99,728.97C177.71,729.15 179.44,729.32 181.16,729.49C182.89,729.65 184.61,729.81 186.33,729.96C188.06,730.11 189.78,730.25 191.51,730.38C193.23,730.51 194.96,730.64 196.68,730.76C198.4,730.87 200.13,730.98 201.85,731.08C203.58,731.18 205.3,731.27 207.02,731.35C208.75,731.43 210.47,731.51 212.2,731.57C213.92,731.64 215.64,731.69 217.37,731.74C219.09,731.79 220.82,731.82 222.54,731.85C224.26,731.88 225.99,731.9 227.71,731.91C229.44,731.92 231.16,731.92 232.88,731.91C234.61,731.9 236.33,731.88 238.06,731.85C239.78,731.83 241.5,731.79 243.23,731.74C244.95,731.69 246.68,731.62 248.4,731.56" stroke="#eb6235" stroke-width="1.35" fill="none" stroke-linejoin="round"/>
<path d="M26,684.33C27.72,684.46 29.45,684.55 31.17,684.73C32.9,684.9 34.62,685.12 36.34,685.38C38.07,685.64 39.79,685.94 41.52,686.29C43.24,686.63 44.96,687.01 46.69,687.43C48.41,687.85 50.14,688.31 51.86,688.8C53.58,689.3 55.31,689.83 57.03,690.4C58.76,690.97 60.48,691.58 62.2,692.21C63.93,692.85 65.65,693.53 67.38,694.23C69.1,694.94 70.82,695.68 72.55,696.45C74.27,697.22 76,698.03 77.72,698.86C79.44,699.69 81.17,700.56 82.89,701.45C84.62,702.34 86.34,703.26 88.07,704.2C89.79,705.14 91.51,706.1 93.24,707.08C94.96,708.06 96.69,709.05 98.41,710.06C100.13,711.06 101.86,712.08 103.58,713.1C105.31,714.12 107.03,715.15 108.75,716.18C110.48,717.2 112.2,718.23 113.93,719.25C115.65,720.27 117.37,721.29 119.1,722.3C120.82,723.3 122.55,724.3 124.27,725.28C125.99,726.26 127.72,727.22 129.44,728.17C131.17,729.11 132.89,730.03 134.61,730.92C136.34,731.82 138.06,732.69 139.79,733.52C141.51,734.35 143.23,735.16 144.96,735.93C146.68,736.69 148.41,737.43 150.13,738.13C151.85,738.83 153.58,739.49 155.3,740.12C157.03,740.75 158.75,741.34 160.47,741.9C162.2,742.46 163.92,742.99 165.65,743.48C167.37,743.96 169.09,744.42 170.82,744.84C172.54,745.25 174.27,745.63 175.99,745.98C177.71,746.32 179.44,746.63 181.16,746.91C182.89,747.18 184.61,747.42 186.33,747.61C188.06,747.81 189.78,747.98 191.51,748.1C193.23,748.23 194.96,748.32 196.68,748.37C198.4,748.42 200.13,748.43 201.85,748.41C203.58,748.39 205.3,748.32 207.02,748.23C208.75,748.14 210.47,748.01 212.2,747.86C213.92,747.71 215.64,747.52 217.37,747.32C219.09,747.11 220.82,746.87 222.54,746.62C224.26,746.36 225.99,746.08 227.71,745.79C229.44,745.49 231.16,745.18 232.88,744.85C234.61,744.52 236.33,744.17 238.06,743.82C239.78,743.47 241.5,743.1 243.23,742.73C244.95,742.36 246.68,741.97 248.4,741.59" stroke="#8778b3" stroke-width="1.35" fill="none" stroke-linejoin="round"/>
<path d="M26,652.7C27.72,652.93 29.45,653.09 31.17,653.41C32.9,653.72 34.62,654.11 36.34,654.57C38.07,655.03 39.79,655.57 41.52,656.17C43.24,656.78 44.96,657.45 46.69,658.2C48.41,658.94 50.14,659.75 51.86,660.63C53.58,661.51 55.31,662.45 57.03,663.46C58.76,664.46 60.48,665.53 62.2,666.66C63.93,667.79 65.65,668.98 67.38,670.24C69.1,671.49 70.82,672.8 72.55,674.18C74.27,675.55 76,676.98 77.72,678.48C79.44,679.97 81.17,681.53 82.89,683.14C84.62,684.75 86.34,686.43 88.07,688.16C89.79,689.89 91.51,691.68 93.24,693.53C94.96,695.38 96.69,697.29 98.41,699.25C100.13,701.22 101.86,703.26 103.58,705.32C105.31,707.39 107.03,709.53 108.75,711.65C110.48,713.77 112.2,715.94 113.93,718.07C115.65,720.2 117.37,722.33 119.1,724.42C120.82,726.5 122.55,728.57 124.27,730.56C125.99,732.55 127.72,734.5 129.44,736.37C131.17,738.24 132.89,740.04 134.61,741.77C136.34,743.49 138.06,745.14 139.79,746.71C141.51,748.28 143.23,749.77 144.96,751.18C146.68,752.58 148.41,753.91 150.13,755.16C151.85,756.41 153.58,757.57 155.3,758.67C157.03,759.76 158.75,760.78 160.47,761.73C162.2,762.68 163.92,763.55 165.65,764.35C167.37,765.16 169.09,765.89 170.82,766.55C172.54,767.22 174.27,767.82 175.99,768.35C177.71,768.88 179.44,769.35 181.16,769.76C182.89,770.16 184.61,770.5 186.33,770.79C188.06,771.07 189.78,771.3 191.51,771.46C193.23,771.63 194.96,771.74 196.68,771.8C198.4,771.85 200.13,771.85 201.85,771.8C203.58,771.75 205.3,771.65 207.02,771.48C208.75,771.32 210.47,771.1 212.2,770.82C213.92,770.54 215.64,770.2 217.37,769.8C219.09,769.4 220.82,768.93 222.54,768.4C224.26,767.86 225.99,767.27 227.71,766.59C229.44,765.92 231.16,765.19 232.88,764.37C234.61,763.56 236.33,762.68 238.06,761.71C239.78,760.75 241.5,759.72 243.23,758.6C244.95,757.48 246.68,756.2 248.4,755.01" stroke="#c56e1a" stroke-width="1.35" fill="none" stroke-linejoin="round"/>
<text x="138.5" y="619.3" font-size="9.7" text-anchor="middle" fill="#1a1a1a"><tspan font-style="italic">v</tspan>=1/4, <tspan font-style="italic">ζ</tspan>=<tspan font-style="italic">π</tspan>/10, <tspan font-style="italic">β</tspan>=3</text>
<g transform="translate(9.5,635.6)" fill="#1a1a1a"><text x="-0.2" y="0.5" font-size="9.8">−</text><polyline points="8.6,-8.0 6.3,-2.9 8.6,2.2" fill="none" stroke="#1a1a1a" stroke-width="1"/><text x="9.6" y="-0.4" font-size="9.6" font-style="italic" font-family='Liberation Serif', serif>T</text><polyline points="11.4,-8.6 12.8,-11.0 14.2,-8.6" fill="none" stroke="#1a1a1a" stroke-width="0.7"/><text x="17.7" y="-8.5" font-size="7.6" font-style="italic" font-family='Liberation Serif', serif>τ</text><text x="16.8" y="2.1" font-size="7.6" font-style="italic" font-family='Liberation Serif', serif>τ</text><polyline points="20.9,-8.0 23.2,-2.9 20.9,2.2" fill="none" stroke="#1a1a1a" stroke-width="1"/><text x="23.8" y="-6.4" font-size="6.6" font-style="italic">ζ</text><text x="24.0" y="1.0" font-size="6.6" font-style="italic">β</text></g>
<rect x="269.8" y="642.4" width="62" height="110.6" fill="#fff" stroke="#1e1e1e" stroke-width="1.3"/>
<line x1="276.8" y1="655.5" x2="291.6" y2="655.5" stroke="#5e81b5" stroke-width="1.2"/>
<text x="296.7" y="658.8" font-size="8.85" fill="#1a1a1a"><tspan font-style="italic">ξ</tspan>=−1</text>
<line x1="276.8" y1="672.5" x2="291.6" y2="672.5" stroke="#e19c24" stroke-width="1.2"/>
<text x="296.7" y="675.8" font-size="8.85" fill="#1a1a1a"><tspan font-style="italic">ξ</tspan>=−1/2</text>
<line x1="276.8" y1="689.5" x2="291.6" y2="689.5" stroke="#8fb032" stroke-width="1.2"/>
<text x="296.7" y="692.3" font-size="8.85" fill="#1a1a1a"><tspan font-style="italic">ξ</tspan>=0</text>
<line x1="276.8" y1="706.5" x2="291.6" y2="706.5" stroke="#eb6235" stroke-width="1.2"/>
<text x="296.7" y="709.5" font-size="8.85" fill="#1a1a1a"><tspan font-style="italic">ξ</tspan>=1/8</text>
<line x1="276.8" y1="723.5" x2="291.6" y2="723.5" stroke="#8778b3" stroke-width="1.2"/>
<text x="296.7" y="726.2" font-size="8.85" fill="#1a1a1a"><tspan font-style="italic">ξ</tspan>=1/2</text>
<line x1="276.8" y1="739.5" x2="291.6" y2="739.5" stroke="#c56e1a" stroke-width="1.2"/>
<text x="296.7" y="743" font-size="8.85" fill="#1a1a1a"><tspan font-style="italic">ξ</tspan>=1</text>
<line x1="376.5" y1="646.3" x2="376.5" y2="787" stroke="#404040" stroke-width="1"/>
<path d="M376.5,784.5h1.7M376.5,778.5h3M376.5,773.5h1.7M376.5,767.5h1.7M376.5,762.5h1.7M376.5,756.5h1.7M376.5,751.5h3M376.5,745.5h1.7M376.5,740.5h1.7M376.5,734.5h1.7M376.5,729.5h1.7M376.5,723.5h3M376.5,718.5h1.7M376.5,712.5h1.7M376.5,707.5h1.7M376.5,701.5h1.7M376.5,696.5h3M376.5,690.5h1.7M376.5,685.5h1.7M376.5,679.5h1.7M376.5,674.5h1.7M376.5,668.5h3M376.5,663.5h1.7M376.5,657.5h1.7M376.5,652.5h1.7M376.5,646.5h1.7" stroke="#404040" stroke-width="1" fill="none"/>
<g font-size="8.8" text-anchor="end" fill="#1a1a1a"><text x="373.9" y="781.8">−0.10</text><text x="373.9" y="754.3">−0.05</text><text x="373.9" y="726.8">0.00</text><text x="373.9" y="699.3">0.05</text><text x="373.9" y="671.8">0.10</text></g>
<line x1="376.5" y1="723.5" x2="605" y2="723.5" stroke="#404040" stroke-width="1.2"/>
<path d="M455.5,723.5v-2.8M535.5,723.5v-2.8" stroke="#404040" stroke-width="1"/>
<text x="455.9" y="731" font-size="8.8" font-style="italic" text-anchor="middle" fill="#1a1a1a">π</text>
<line x1="451.9" y1="733.7" x2="458.9" y2="733.7" stroke="#1a1a1a" stroke-width="1.1"/>
<text x="455.9" y="743.7" font-size="8.8" text-anchor="middle" fill="#1a1a1a">6</text>
<text x="535" y="731" font-size="8.8" font-style="italic" text-anchor="middle" fill="#1a1a1a">π</text>
<line x1="531" y1="733.7" x2="538" y2="733.7" stroke="#1a1a1a" stroke-width="1.1"/>
<text x="535" y="743.7" font-size="8.8" text-anchor="middle" fill="#1a1a1a">3</text>
<text x="611.5" y="728.1" font-size="10" font-style="italic" fill="#1a1a1a">ρ</text>
<path d="M378,655.29C379.73,655.27 381.46,655.27 383.19,655.24C384.91,655.22 386.64,655.19 388.37,655.15C390.1,655.11 391.83,655.07 393.56,655.02C395.29,654.97 397.02,654.91 398.74,654.85C400.47,654.79 402.2,654.72 403.93,654.66C405.66,654.59 407.39,654.51 409.12,654.44C410.84,654.37 412.57,654.29 414.3,654.21C416.03,654.13 417.76,654.05 419.49,653.97C421.22,653.89 422.95,653.8 424.67,653.72C426.4,653.64 428.13,653.56 429.86,653.48C431.59,653.4 433.32,653.32 435.05,653.25C436.78,653.17 438.5,653.1 440.23,653.03C441.96,652.96 443.69,652.9 445.42,652.84C447.15,652.78 448.88,652.72 450.6,652.67C452.33,652.62 454.06,652.57 455.79,652.53C457.52,652.5 459.25,652.46 460.98,652.44C462.71,652.42 464.43,652.4 466.16,652.39C467.89,652.38 469.62,652.39 471.35,652.4C473.08,652.41 474.81,652.43 476.53,652.46C478.26,652.49 479.99,652.53 481.72,652.59C483.45,652.64 485.18,652.71 486.91,652.78C488.64,652.86 490.36,652.95 492.09,653.06C493.82,653.17 495.55,653.28 497.28,653.42C499.01,653.55 500.74,653.7 502.47,653.87C504.19,654.03 505.92,654.21 507.65,654.41C509.38,654.61 511.11,654.82 512.84,655.05C514.57,655.29 516.29,655.54 518.02,655.81C519.75,656.08 521.48,656.36 523.21,656.67C524.94,656.98 526.67,657.31 528.4,657.66C530.12,658.01 531.85,658.38 533.58,658.77C535.31,659.16 537.04,659.58 538.77,660.02C540.5,660.46 542.22,660.91 543.95,661.41C545.68,661.9 547.41,662.42 549.14,663C550.87,663.57 552.6,664.18 554.33,664.87C556.05,665.55 557.78,666.29 559.51,667.1C561.24,667.92 562.97,668.8 564.7,669.78C566.43,670.76 568.16,671.82 569.88,672.98C571.61,674.15 573.34,675.41 575.07,676.79C576.8,678.17 578.53,679.65 580.26,681.28C581.98,682.9 583.71,684.63 585.44,686.55C587.17,688.47 588.9,690.52 590.63,692.79C592.36,695.07 594.09,697.5 595.81,700.2C597.54,702.89 599.27,706.04 601,708.96" stroke="#5e81b5" stroke-width="1.35" fill="none" stroke-linejoin="round"/>
<path d="M378,684.77C379.73,684.81 381.46,684.87 383.19,684.9C384.91,684.94 386.64,684.97 388.37,684.99C390.1,685.02 391.83,685.03 393.56,685.04C395.29,685.05 397.02,685.06 398.74,685.05C400.47,685.05 402.2,685.04 403.93,685.03C405.66,685.02 407.39,685 409.12,684.98C410.84,684.96 412.57,684.94 414.3,684.91C416.03,684.89 417.76,684.86 419.49,684.83C421.22,684.8 422.95,684.76 424.67,684.73C426.4,684.69 428.13,684.66 429.86,684.62C431.59,684.59 433.32,684.55 435.05,684.51C436.78,684.48 438.5,684.44 440.23,684.41C441.96,684.38 443.69,684.34 445.42,684.31C447.15,684.28 448.88,684.26 450.6,684.23C452.33,684.21 454.06,684.19 455.79,684.17C457.52,684.15 459.25,684.14 460.98,684.13C462.71,684.12 464.43,684.11 466.16,684.11C467.89,684.12 469.62,684.12 471.35,684.14C473.08,684.15 474.81,684.17 476.53,684.2C478.26,684.22 479.99,684.26 481.72,684.3C483.45,684.34 485.18,684.39 486.91,684.45C488.64,684.51 490.36,684.58 492.09,684.66C493.82,684.74 495.55,684.83 497.28,684.93C499.01,685.03 500.74,685.13 502.47,685.26C504.19,685.38 505.92,685.51 507.65,685.65C509.38,685.8 511.11,685.96 512.84,686.13C514.57,686.3 516.29,686.48 518.02,686.68C519.75,686.88 521.48,687.09 523.21,687.32C524.94,687.54 526.67,687.78 528.4,688.04C530.12,688.3 531.85,688.57 533.58,688.86C535.31,689.15 537.04,689.46 538.77,689.78C540.5,690.11 542.22,690.45 543.95,690.81C545.68,691.17 547.41,691.55 549.14,691.96C550.87,692.37 552.6,692.79 554.33,693.25C556.05,693.72 557.78,694.2 559.51,694.72C561.24,695.25 562.97,695.8 564.7,696.39C566.43,696.98 568.16,697.6 569.88,698.27C571.61,698.94 573.34,699.65 575.07,700.4C576.8,701.15 578.53,701.95 580.26,702.8C581.98,703.64 583.71,704.53 585.44,705.48C587.17,706.43 588.9,707.43 590.63,708.48C592.36,709.54 594.09,710.65 595.81,711.82C597.54,713 599.27,714.29 601,715.53" stroke="#e19c24" stroke-width="1.35" fill="none" stroke-linejoin="round"/>
<path d="M378,714.7C379.73,714.72 381.46,714.73 383.19,714.74C384.91,714.75 386.64,714.76 388.37,714.78C390.1,714.79 391.83,714.8 393.56,714.82C395.29,714.83 397.02,714.85 398.74,714.87C400.47,714.88 402.2,714.9 403.93,714.92C405.66,714.94 407.39,714.96 409.12,714.98C410.84,715 412.57,715.02 414.3,715.04C416.03,715.06 417.76,715.08 419.49,715.11C421.22,715.13 422.95,715.15 424.67,715.18C426.4,715.21 428.13,715.23 429.86,715.26C431.59,715.29 433.32,715.31 435.05,715.34C436.78,715.37 438.5,715.4 440.23,715.43C441.96,715.46 443.69,715.49 445.42,715.53C447.15,715.56 448.88,715.59 450.6,715.63C452.33,715.66 454.06,715.7 455.79,715.73C457.52,715.77 459.25,715.81 460.98,715.85C462.71,715.89 464.43,715.93 466.16,715.97C467.89,716.01 469.62,716.05 471.35,716.09C473.08,716.14 474.81,716.18 476.53,716.22C478.26,716.27 479.99,716.32 481.72,716.36C483.45,716.41 485.18,716.46 486.91,716.51C488.64,716.56 490.36,716.61 492.09,716.66C493.82,716.71 495.55,716.76 497.28,716.82C499.01,716.87 500.74,716.93 502.47,716.98C504.19,717.04 505.92,717.1 507.65,717.16C509.38,717.22 511.11,717.28 512.84,717.34C514.57,717.4 516.29,717.46 518.02,717.52C519.75,717.59 521.48,717.65 523.21,717.72C524.94,717.78 526.67,717.85 528.4,717.92C530.12,717.99 531.85,718.06 533.58,718.13C535.31,718.2 537.04,718.27 538.77,718.35C540.5,718.42 542.22,718.5 543.95,718.57C545.68,718.65 547.41,718.73 549.14,718.81C550.87,718.89 552.6,718.97 554.33,719.05C556.05,719.13 557.78,719.21 559.51,719.3C561.24,719.38 562.97,719.47 564.7,719.55C566.43,719.64 568.16,719.73 569.88,719.82C571.61,719.91 573.34,720 575.07,720.1C576.8,720.19 578.53,720.28 580.26,720.38C581.98,720.47 583.71,720.57 585.44,720.67C587.17,720.77 588.9,720.87 590.63,720.97C592.36,721.07 594.09,721.18 595.81,721.28C597.54,721.39 599.27,721.49 601,721.6" stroke="#8fb032" stroke-width="1.35" fill="none" stroke-linejoin="round"/>
<path d="M378,722C379.73,722.03 381.46,722.06 383.19,722.09C384.91,722.12 386.64,722.16 388.37,722.19C390.1,722.22 391.83,722.25 393.56,722.29C395.29,722.32 397.02,722.35 398.74,722.39C400.47,722.42 402.2,722.46 403.93,722.49C405.66,722.53 407.39,722.56 409.12,722.6C410.84,722.63 412.57,722.67 414.3,722.7C416.03,722.74 417.76,722.77 419.49,722.81C421.22,722.84 422.95,722.88 424.67,722.92C426.4,722.95 428.13,722.99 429.86,723.02C431.59,723.06 433.32,723.09 435.05,723.13C436.78,723.16 438.5,723.2 440.23,723.23C441.96,723.26 443.69,723.3 445.42,723.33C447.15,723.37 448.88,723.4 450.6,723.43C452.33,723.46 454.06,723.5 455.79,723.53C457.52,723.56 459.25,723.59 460.98,723.62C462.71,723.65 464.43,723.68 466.16,723.71C467.89,723.74 469.62,723.77 471.35,723.8C473.08,723.83 474.81,723.85 476.53,723.88C478.26,723.91 479.99,723.93 481.72,723.96C483.45,723.98 485.18,724 486.91,724.03C488.64,724.05 490.36,724.07 492.09,724.09C493.82,724.11 495.55,724.13 497.28,724.15C499.01,724.17 500.74,724.18 502.47,724.2C504.19,724.21 505.92,724.23 507.65,724.24C509.38,724.25 511.11,724.27 512.84,724.28C514.57,724.29 516.29,724.3 518.02,724.3C519.75,724.31 521.48,724.32 523.21,724.32C524.94,724.33 526.67,724.33 528.4,724.33C530.12,724.33 531.85,724.33 533.58,724.33C535.31,724.33 537.04,724.32 538.77,724.32C540.5,724.31 542.22,724.3 543.95,724.29C545.68,724.29 547.41,724.27 549.14,724.26C550.87,724.25 552.6,724.23 554.33,724.22C556.05,724.2 557.78,724.18 559.51,724.16C561.24,724.14 562.97,724.11 564.7,724.09C566.43,724.06 568.16,724.03 569.88,724C571.61,723.97 573.34,723.94 575.07,723.91C576.8,723.87 578.53,723.83 580.26,723.8C581.98,723.76 583.71,723.71 585.44,723.67C587.17,723.62 588.9,723.58 590.63,723.53C592.36,723.48 594.09,723.43 595.81,723.37C597.54,723.32 599.27,723.26 601,723.2" stroke="#eb6235" stroke-width="1.35" fill="none" stroke-linejoin="round"/>
<path d="M378,744.14C379.73,744.12 381.46,744.1 383.19,744.09C384.91,744.08 386.64,744.08 388.37,744.09C390.1,744.1 391.83,744.12 393.56,744.15C395.29,744.17 397.02,744.21 398.74,744.24C400.47,744.28 402.2,744.33 403.93,744.38C405.66,744.43 407.39,744.49 409.12,744.55C410.84,744.61 412.57,744.68 414.3,744.75C416.03,744.82 417.76,744.89 419.49,744.97C421.22,745.05 422.95,745.13 424.67,745.21C426.4,745.29 428.13,745.38 429.86,745.47C431.59,745.55 433.32,745.64 435.05,745.74C436.78,745.83 438.5,745.92 440.23,746.01C441.96,746.1 443.69,746.19 445.42,746.28C447.15,746.38 448.88,746.47 450.6,746.56C452.33,746.65 454.06,746.73 455.79,746.82C457.52,746.91 459.25,746.99 460.98,747.07C462.71,747.15 464.43,747.23 466.16,747.31C467.89,747.38 469.62,747.45 471.35,747.52C473.08,747.59 474.81,747.65 476.53,747.71C478.26,747.76 479.99,747.81 481.72,747.86C483.45,747.91 485.18,747.95 486.91,747.98C488.64,748.01 490.36,748.04 492.09,748.06C493.82,748.08 495.55,748.09 497.28,748.09C499.01,748.1 500.74,748.09 502.47,748.08C504.19,748.06 505.92,748.04 507.65,748.01C509.38,747.97 511.11,747.93 512.84,747.88C514.57,747.83 516.29,747.76 518.02,747.69C519.75,747.61 521.48,747.53 523.21,747.43C524.94,747.33 526.67,747.22 528.4,747.09C530.12,746.97 531.85,746.83 533.58,746.68C535.31,746.53 537.04,746.37 538.77,746.19C540.5,746.01 542.22,745.82 543.95,745.61C545.68,745.4 547.41,745.18 549.14,744.93C550.87,744.68 552.6,744.41 554.33,744.12C556.05,743.82 557.78,743.51 559.51,743.16C561.24,742.82 562.97,742.44 564.7,742.04C566.43,741.63 568.16,741.2 569.88,740.72C571.61,740.25 573.34,739.75 575.07,739.2C576.8,738.65 578.53,738.07 580.26,737.45C581.98,736.82 583.71,736.15 585.44,735.44C587.17,734.72 588.9,733.96 590.63,733.15C592.36,732.34 594.09,731.49 595.81,730.57C597.54,729.66 599.27,728.64 601,727.68" stroke="#8778b3" stroke-width="1.35" fill="none" stroke-linejoin="round"/>
<path d="M378,773.8C379.73,773.88 381.46,773.95 383.19,774.03C384.91,774.11 386.64,774.2 388.37,774.28C390.1,774.37 391.83,774.46 393.56,774.55C395.29,774.64 397.02,774.74 398.74,774.83C400.47,774.93 402.2,775.03 403.93,775.13C405.66,775.23 407.39,775.33 409.12,775.44C410.84,775.54 412.57,775.64 414.3,775.75C416.03,775.86 417.76,775.96 419.49,776.07C421.22,776.18 422.95,776.28 424.67,776.39C426.4,776.5 428.13,776.61 429.86,776.71C431.59,776.82 433.32,776.92 435.05,777.03C436.78,777.14 438.5,777.24 440.23,777.34C441.96,777.45 443.69,777.55 445.42,777.65C447.15,777.75 448.88,777.84 450.6,777.94C452.33,778.04 454.06,778.13 455.79,778.22C457.52,778.31 459.25,778.4 460.98,778.48C462.71,778.57 464.43,778.65 466.16,778.73C467.89,778.8 469.62,778.88 471.35,778.95C473.08,779.02 474.81,779.09 476.53,779.15C478.26,779.21 479.99,779.27 481.72,779.32C483.45,779.37 485.18,779.41 486.91,779.45C488.64,779.48 490.36,779.51 492.09,779.52C493.82,779.54 495.55,779.54 497.28,779.53C499.01,779.52 500.74,779.5 502.47,779.45C504.19,779.41 505.92,779.36 507.65,779.28C509.38,779.21 511.11,779.11 512.84,779C514.57,778.88 516.29,778.75 518.02,778.59C519.75,778.43 521.48,778.25 523.21,778.05C524.94,777.84 526.67,777.61 528.4,777.35C530.12,777.08 531.85,776.8 533.58,776.48C535.31,776.15 537.04,775.81 538.77,775.41C540.5,775.02 542.22,774.6 543.95,774.12C545.68,773.65 547.41,773.14 549.14,772.57C550.87,772.01 552.6,771.4 554.33,770.73C556.05,770.06 557.78,769.34 559.51,768.55C561.24,767.77 562.97,766.93 564.7,766.02C566.43,765.11 568.16,764.14 569.88,763.1C571.61,762.05 573.34,760.94 575.07,759.74C576.8,758.55 578.53,757.29 580.26,755.93C581.98,754.58 583.71,753.16 585.44,751.6C587.17,750.05 588.9,748.42 590.63,746.62C592.36,744.82 594.09,742.92 595.81,740.82C597.54,738.73 599.27,736.31 601,734.05" stroke="#c56e1a" stroke-width="1.35" fill="none" stroke-linejoin="round"/>
<text x="490.8" y="619.3" font-size="9.7" text-anchor="middle" fill="#1a1a1a"><tspan font-style="italic">v</tspan>=3/4, <tspan font-style="italic">ζ</tspan>=<tspan font-style="italic">π</tspan>/10, <tspan font-style="italic">β</tspan>=3</text>
<g transform="translate(362,635.6)" fill="#1a1a1a"><text x="-0.2" y="0.5" font-size="9.8">−</text><polyline points="8.6,-8.0 6.3,-2.9 8.6,2.2" fill="none" stroke="#1a1a1a" stroke-width="1"/><text x="9.6" y="-0.4" font-size="9.6" font-style="italic" font-family='Liberation Serif', serif>T</text><polyline points="11.4,-8.6 12.8,-11.0 14.2,-8.6" fill="none" stroke="#1a1a1a" stroke-width="0.7"/><text x="17.7" y="-8.5" font-size="7.6" font-style="italic" font-family='Liberation Serif', serif>τ</text><text x="16.8" y="2.1" font-size="7.6" font-style="italic" font-family='Liberation Serif', serif>τ</text><polyline points="20.9,-8.0 23.2,-2.9 20.9,2.2" fill="none" stroke="#1a1a1a" stroke-width="1"/><text x="23.8" y="-6.4" font-size="6.6" font-style="italic">ζ</text><text x="24.0" y="1.0" font-size="6.6" font-style="italic">β</text></g>
<rect x="622.2" y="642.8" width="61.9" height="110.2" fill="#fff" stroke="#1e1e1e" stroke-width="1.3"/>
<line x1="629.2" y1="655.5" x2="644" y2="655.5" stroke="#5e81b5" stroke-width="1.2"/>
<text x="649.1" y="659" font-size="8.85" fill="#1a1a1a"><tspan font-style="italic">ξ</tspan>=−1</text>
<line x1="629.2" y1="672.5" x2="644" y2="672.5" stroke="#e19c24" stroke-width="1.2"/>
<text x="649.1" y="675.9" font-size="8.85" fill="#1a1a1a"><tspan font-style="italic">ξ</tspan>=−1/2</text>
<line x1="629.2" y1="689.5" x2="644" y2="689.5" stroke="#8fb032" stroke-width="1.2"/>
<text x="649.1" y="692.4" font-size="8.85" fill="#1a1a1a"><tspan font-style="italic">ξ</tspan>=0</text>
<line x1="629.2" y1="706.5" x2="644" y2="706.5" stroke="#eb6235" stroke-width="1.2"/>
<text x="649.1" y="709.3" font-size="8.85" fill="#1a1a1a"><tspan font-style="italic">ξ</tspan>=1/8</text>
<line x1="629.2" y1="722.5" x2="644" y2="722.5" stroke="#8778b3" stroke-width="1.2"/>
<text x="649.1" y="726" font-size="8.85" fill="#1a1a1a"><tspan font-style="italic">ξ</tspan>=1/2</text>
<line x1="629.2" y1="739.5" x2="644" y2="739.5" stroke="#c56e1a" stroke-width="1.2"/>
<text x="649.1" y="742.9" font-size="8.85" fill="#1a1a1a"><tspan font-style="italic">ξ</tspan>=1</text>
</svg>
</body></html>
